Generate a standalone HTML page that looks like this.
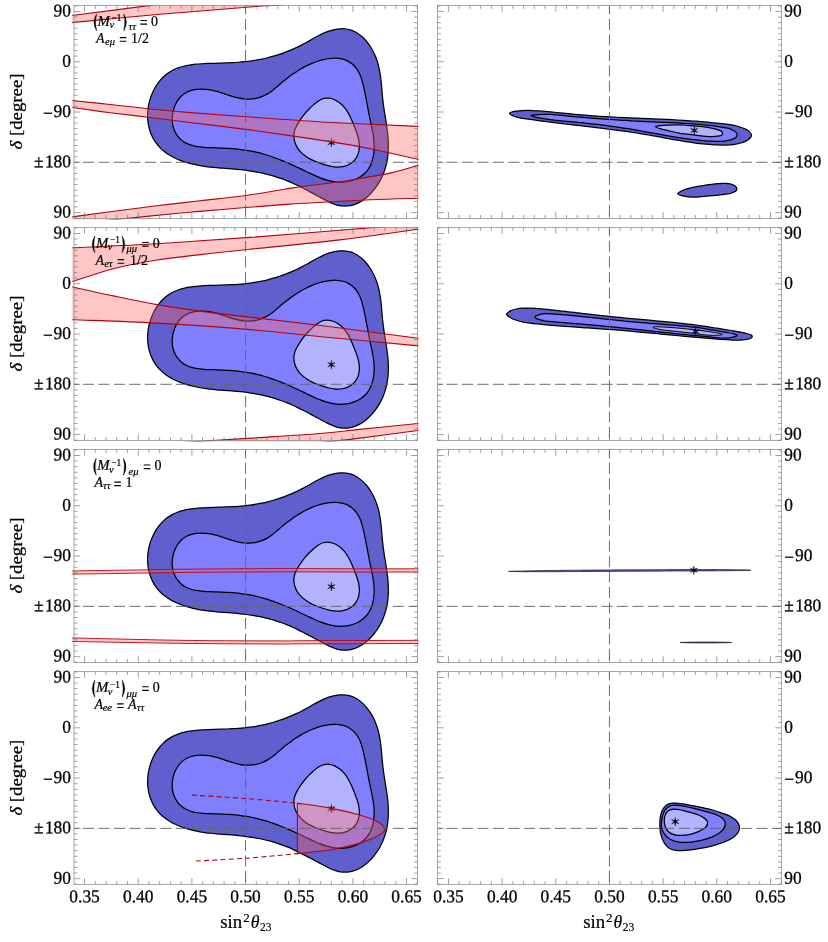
<!DOCTYPE html>
<html><head><meta charset="utf-8"><title>plot</title>
<style>html,body{margin:0;padding:0;background:#fff}svg{display:block}text{font-family:"Liberation Serif",serif;fill:#000}</style></head><body>
<svg width="828" height="942" viewBox="0 0 828 942">
<rect width="828" height="942" fill="#fff"/>
<defs>
<clipPath id="cl0"><rect x="74.00" y="5.45" width="343.50" height="212.95"/></clipPath>
<clipPath id="cb0"><rect x="72.20" y="4.95" width="346.30" height="214.55"/></clipPath>
<clipPath id="cr0"><rect x="437.50" y="5.45" width="344.00" height="212.95"/></clipPath>
<clipPath id="cl1"><rect x="74.00" y="227.48" width="343.50" height="212.95"/></clipPath>
<clipPath id="cb1"><rect x="72.20" y="226.98" width="346.30" height="214.55"/></clipPath>
<clipPath id="cr1"><rect x="437.50" y="227.48" width="344.00" height="212.95"/></clipPath>
<clipPath id="cl2"><rect x="74.00" y="449.51" width="343.50" height="212.95"/></clipPath>
<clipPath id="cb2"><rect x="72.20" y="449.01" width="346.30" height="214.55"/></clipPath>
<clipPath id="cr2"><rect x="437.50" y="449.51" width="344.00" height="212.95"/></clipPath>
<clipPath id="cl3"><rect x="74.00" y="671.54" width="343.50" height="212.95"/></clipPath>
<clipPath id="cb3"><rect x="72.20" y="671.04" width="346.30" height="214.55"/></clipPath>
<clipPath id="cr3"><rect x="437.50" y="671.54" width="344.00" height="212.95"/></clipPath>
<path id="star" d="M0.00 -4.20L-0.50 -0.87L-3.64 -2.10L-1.00 -0.00L-3.64 2.10L-0.50 0.87L-0.00 4.20L0.50 0.87L3.64 2.10L1.00 0.00L3.64 -2.10L0.50 -0.87Z" fill="#000" stroke="#000" stroke-width="0.45" stroke-linejoin="round"/>
<filter id="gs" filterUnits="userSpaceOnUse" x="0" y="0" width="828" height="942" color-interpolation-filters="sRGB"><feColorMatrix type="saturate" values="0"/></filter>
</defs>
<g clip-path="url(#cl0)">
<g transform="translate(0 0.00)">
<path d="M147.59 115.72C147.58 113.68 147.70 111.61 147.93 109.56C148.15 107.52 148.50 105.46 148.95 103.45C149.41 101.43 149.97 99.42 150.64 97.47C151.31 95.52 152.08 93.59 152.95 91.74C153.82 89.89 154.80 88.08 155.86 86.35C156.91 84.63 158.07 82.97 159.31 81.41C160.55 79.86 161.88 78.38 163.29 77.02C164.70 75.66 166.19 74.40 167.76 73.28C169.32 72.15 170.97 71.15 172.67 70.27C174.37 69.38 176.15 68.63 177.98 67.96C179.80 67.29 181.69 66.74 183.61 66.25C185.53 65.76 187.50 65.38 189.49 65.04C191.49 64.71 193.52 64.46 195.57 64.24C197.62 64.03 199.69 63.88 201.77 63.75C203.84 63.62 205.94 63.54 208.02 63.46C210.11 63.38 212.20 63.34 214.26 63.28C216.33 63.22 218.39 63.18 220.43 63.12C222.47 63.06 224.49 62.99 226.50 62.91C228.51 62.83 230.51 62.74 232.49 62.63C234.48 62.53 236.46 62.40 238.43 62.25C240.40 62.10 242.36 61.94 244.32 61.74C246.27 61.54 248.22 61.32 250.17 61.06C252.12 60.80 254.07 60.51 256.02 60.18C257.97 59.85 259.92 59.49 261.86 59.08C263.81 58.67 265.76 58.23 267.71 57.74C269.65 57.26 271.59 56.73 273.53 56.17C275.47 55.61 277.40 55.00 279.32 54.36C281.24 53.72 283.16 53.05 285.06 52.33C286.96 51.61 288.86 50.86 290.74 50.07C292.62 49.28 294.48 48.45 296.33 47.58C298.18 46.72 300.01 45.81 301.83 44.87C303.64 43.94 305.43 42.94 307.22 41.95C309.00 40.96 310.76 39.92 312.53 38.93C314.30 37.93 316.06 36.92 317.84 35.99C319.62 35.05 321.40 34.13 323.21 33.31C325.02 32.50 326.85 31.73 328.72 31.10C330.59 30.46 332.50 29.91 334.44 29.52C336.38 29.14 338.38 28.86 340.34 28.77C342.30 28.69 344.30 28.74 346.22 29.00C348.14 29.27 350.06 29.71 351.87 30.37C353.69 31.03 355.45 31.91 357.13 32.94C358.80 33.97 360.41 35.21 361.93 36.55C363.44 37.88 364.88 39.39 366.23 40.97C367.57 42.55 368.83 44.26 369.99 46.01C371.15 47.75 372.21 49.60 373.17 51.45C374.13 53.30 374.98 55.20 375.73 57.09C376.48 58.98 377.12 60.89 377.69 62.80C378.26 64.72 378.73 66.64 379.15 68.57C379.56 70.51 379.90 72.45 380.21 74.40C380.51 76.35 380.75 78.30 380.98 80.27C381.21 82.23 381.39 84.20 381.57 86.18C381.76 88.15 381.91 90.14 382.09 92.13C382.27 94.11 382.44 96.11 382.65 98.11C382.85 100.10 383.08 102.10 383.34 104.11C383.60 106.11 383.90 108.12 384.20 110.13C384.50 112.14 384.83 114.16 385.15 116.17C385.47 118.18 385.81 120.19 386.12 122.21C386.43 124.22 386.74 126.23 387.01 128.24C387.28 130.25 387.53 132.26 387.73 134.27C387.93 136.27 388.11 138.28 388.21 140.27C388.32 142.27 388.38 144.27 388.37 146.25C388.35 148.24 388.29 150.22 388.14 152.19C388.00 154.16 387.79 156.12 387.51 158.07C387.22 160.01 386.87 161.95 386.42 163.87C385.98 165.78 385.46 167.69 384.85 169.57C384.24 171.45 383.55 173.32 382.76 175.16C381.96 177.00 381.08 178.83 380.10 180.62C379.11 182.41 378.02 184.20 376.85 185.92C375.67 187.64 374.39 189.34 373.04 190.94C371.69 192.54 370.24 194.09 368.73 195.51C367.23 196.93 365.63 198.27 363.99 199.46C362.34 200.65 360.63 201.73 358.86 202.63C357.10 203.53 355.28 204.30 353.42 204.86C351.57 205.42 349.65 205.80 347.73 205.99C345.81 206.17 343.85 206.17 341.92 205.98C339.99 205.79 338.05 205.40 336.15 204.84C334.25 204.29 332.38 203.48 330.53 202.66C328.68 201.83 326.86 200.84 325.04 199.91C323.23 198.97 321.43 198.00 319.63 197.04C317.84 196.08 316.05 195.11 314.27 194.16C312.48 193.20 310.71 192.24 308.93 191.29C307.15 190.35 305.37 189.41 303.59 188.49C301.80 187.57 300.02 186.66 298.22 185.79C296.43 184.91 294.62 184.05 292.80 183.23C290.99 182.41 289.16 181.61 287.31 180.85C285.46 180.10 283.60 179.38 281.72 178.70C279.83 178.02 277.93 177.39 276.01 176.79C274.09 176.19 272.16 175.63 270.21 175.11C268.27 174.59 266.31 174.11 264.34 173.65C262.37 173.20 260.39 172.78 258.41 172.40C256.42 172.01 254.43 171.66 252.44 171.33C250.44 171.01 248.44 170.71 246.44 170.44C244.45 170.17 242.44 169.93 240.45 169.71C238.45 169.50 236.46 169.31 234.46 169.13C232.47 168.95 230.49 168.80 228.50 168.65C226.51 168.50 224.53 168.36 222.55 168.21C220.57 168.05 218.59 167.91 216.61 167.73C214.63 167.56 212.65 167.38 210.67 167.16C208.69 166.95 206.71 166.71 204.73 166.43C202.75 166.15 200.77 165.84 198.79 165.47C196.81 165.10 194.82 164.70 192.84 164.22C190.85 163.74 188.85 163.21 186.88 162.61C184.91 162.01 182.94 161.35 181.01 160.62C179.09 159.88 177.18 159.08 175.33 158.20C173.49 157.32 171.68 156.37 169.95 155.33C168.22 154.29 166.54 153.18 164.96 151.98C163.38 150.78 161.87 149.49 160.48 148.12C159.09 146.74 157.78 145.27 156.60 143.72C155.43 142.16 154.36 140.51 153.41 138.80C152.45 137.08 151.61 135.28 150.89 133.44C150.17 131.60 149.57 129.69 149.08 127.75C148.60 125.81 148.23 123.82 147.98 121.81C147.73 119.81 147.60 117.76 147.59 115.72Z" fill="#5f5fcd" stroke="#000" stroke-width="1.25" stroke-linejoin="round"/><path d="M172.16 119.05C172.17 116.98 172.39 114.83 172.78 112.78C173.16 110.72 173.75 108.64 174.49 106.70C175.24 104.76 176.16 102.86 177.23 101.16C178.31 99.46 179.55 97.85 180.93 96.48C182.30 95.12 183.85 93.95 185.49 92.97C187.12 92.00 188.91 91.25 190.75 90.65C192.58 90.06 194.54 89.66 196.51 89.40C198.48 89.14 200.54 89.06 202.57 89.10C204.61 89.14 206.69 89.33 208.73 89.63C210.77 89.92 212.80 90.36 214.80 90.85C216.80 91.34 218.76 91.96 220.72 92.56C222.68 93.17 224.62 93.86 226.55 94.50C228.49 95.14 230.41 95.81 232.35 96.39C234.28 96.96 236.21 97.53 238.15 97.95C240.10 98.38 242.05 98.75 244.02 98.94C245.99 99.12 248.00 99.19 249.99 99.08C251.98 98.98 254.00 98.71 255.96 98.30C257.92 97.89 259.88 97.33 261.76 96.62C263.63 95.90 265.47 95.03 267.21 94.03C268.95 93.04 270.60 91.85 272.22 90.64C273.84 89.43 275.38 88.08 276.95 86.78C278.51 85.47 280.04 84.11 281.60 82.81C283.17 81.51 284.73 80.22 286.32 78.98C287.92 77.73 289.52 76.52 291.14 75.35C292.77 74.17 294.41 73.03 296.08 71.94C297.75 70.84 299.44 69.79 301.16 68.78C302.88 67.78 304.63 66.82 306.40 65.92C308.18 65.02 309.98 64.16 311.83 63.37C313.68 62.59 315.56 61.86 317.50 61.22C319.44 60.58 321.44 60.01 323.47 59.55C325.50 59.10 327.60 58.71 329.67 58.50C331.73 58.28 333.84 58.16 335.87 58.24C337.90 58.32 339.93 58.53 341.84 58.96C343.76 59.40 345.64 60.01 347.38 60.86C349.11 61.71 350.76 62.80 352.25 64.05C353.74 65.30 355.11 66.78 356.31 68.35C357.51 69.93 358.56 71.68 359.44 73.48C360.33 75.28 360.99 77.21 361.62 79.15C362.25 81.09 362.71 83.10 363.19 85.09C363.68 87.08 364.11 89.09 364.54 91.09C364.97 93.09 365.37 95.09 365.76 97.08C366.16 99.08 366.54 101.07 366.91 103.06C367.29 105.05 367.66 107.03 368.03 109.01C368.40 110.99 368.77 112.96 369.15 114.93C369.53 116.89 369.92 118.85 370.32 120.80C370.72 122.75 371.16 124.69 371.56 126.63C371.96 128.58 372.38 130.51 372.73 132.48C373.08 134.44 373.41 136.40 373.65 138.40C373.88 140.39 374.07 142.41 374.13 144.47C374.19 146.52 374.17 148.64 374.01 150.72C373.84 152.80 373.58 154.92 373.15 156.96C372.73 158.99 372.18 161.02 371.46 162.91C370.74 164.81 369.88 166.66 368.83 168.33C367.78 170.00 366.55 171.56 365.17 172.94C363.79 174.33 362.21 175.56 360.56 176.64C358.91 177.72 357.10 178.64 355.25 179.41C353.41 180.17 351.45 180.79 349.50 181.24C347.55 181.70 345.53 182.00 343.55 182.15C341.58 182.30 339.60 182.28 337.64 182.14C335.68 182.00 333.74 181.70 331.80 181.31C329.87 180.93 327.95 180.41 326.04 179.82C324.13 179.24 322.23 178.55 320.34 177.81C318.44 177.08 316.56 176.26 314.68 175.43C312.79 174.60 310.92 173.71 309.05 172.82C307.17 171.94 305.30 171.02 303.43 170.13C301.56 169.24 299.70 168.36 297.83 167.49C295.96 166.62 294.09 165.76 292.22 164.92C290.35 164.09 288.48 163.26 286.61 162.47C284.74 161.67 282.87 160.90 280.99 160.15C279.11 159.40 277.23 158.68 275.35 157.99C273.47 157.29 271.58 156.63 269.69 156.01C267.80 155.38 265.91 154.79 264.00 154.23C262.10 153.68 260.20 153.17 258.29 152.70C256.37 152.23 254.45 151.80 252.53 151.41C250.60 151.02 248.67 150.67 246.72 150.35C244.78 150.04 242.82 149.76 240.85 149.51C238.89 149.26 236.91 149.05 234.91 148.86C232.92 148.66 230.92 148.50 228.89 148.36C226.87 148.22 224.83 148.11 222.78 148.01C220.72 147.91 218.64 147.84 216.55 147.77C214.46 147.70 212.34 147.68 210.24 147.60C208.13 147.52 206.01 147.46 203.94 147.30C201.86 147.15 199.79 146.97 197.79 146.66C195.80 146.35 193.83 145.98 191.96 145.44C190.09 144.90 188.27 144.27 186.57 143.42C184.87 142.58 183.24 141.59 181.77 140.38C180.29 139.17 178.91 137.73 177.72 136.17C176.53 134.61 175.46 132.85 174.63 131.02C173.80 129.19 173.15 127.21 172.74 125.22C172.33 123.23 172.16 121.13 172.16 119.05Z" fill="#8080fe" stroke="#000" stroke-width="1.25" stroke-linejoin="round"/><path d="M297.60 124.09C298.60 122.30 299.73 120.56 300.91 118.86C302.08 117.16 303.33 115.51 304.65 113.90C305.96 112.30 307.35 110.75 308.82 109.24C310.28 107.74 311.82 106.25 313.43 104.87C315.04 103.48 316.74 102.00 318.49 100.93C320.23 99.87 322.07 98.90 323.91 98.45C325.76 98.00 327.69 97.98 329.56 98.24C331.42 98.50 333.32 99.16 335.10 99.99C336.87 100.83 338.63 101.99 340.20 103.26C341.77 104.53 343.23 106.04 344.54 107.60C345.84 109.17 346.97 110.89 348.03 112.66C349.09 114.43 350.01 116.31 350.90 118.19C351.79 120.08 352.57 122.04 353.36 123.97C354.15 125.90 354.93 127.84 355.64 129.76C356.36 131.69 357.08 133.59 357.64 135.53C358.20 137.47 358.72 139.40 359.00 141.40C359.28 143.39 359.46 145.46 359.34 147.49C359.21 149.53 358.91 151.68 358.26 153.60C357.60 155.53 356.60 157.43 355.40 159.04C354.19 160.65 352.61 162.11 351.02 163.25C349.42 164.39 347.64 165.25 345.83 165.87C344.02 166.49 342.11 166.81 340.17 166.97C338.22 167.12 336.20 167.03 334.17 166.82C332.14 166.61 330.06 166.19 328.00 165.71C325.93 165.23 323.83 164.60 321.78 163.93C319.73 163.25 317.66 162.51 315.69 161.67C313.71 160.83 311.76 159.92 309.93 158.90C308.10 157.88 306.33 156.78 304.73 155.56C303.12 154.34 301.60 153.02 300.29 151.58C298.98 150.14 297.79 148.58 296.84 146.90C295.89 145.21 295.10 143.35 294.60 141.46C294.10 139.56 293.79 137.50 293.85 135.53C293.90 133.56 294.29 131.54 294.92 129.63C295.54 127.73 296.60 125.89 297.60 124.09Z" fill="#b2b2fd" stroke="#000" stroke-width="1.25" stroke-linejoin="round"/>
</g>
<use href="#star" x="331.40" y="142.64"/>
</g>
<g clip-path="url(#cb0)">
<path d="M60.00 17.00C62.33 16.70 58.93 17.13 74.00 15.20C89.07 13.27 129.40 8.10 150.40 5.40C171.40 2.70 191.73 0.07 200.00 -1.00L300.00 3.40C295.33 3.74 280.33 4.86 272.00 5.45C263.67 6.04 268.67 5.47 250.00 6.95C231.33 8.43 189.33 11.73 160.00 14.30C130.67 16.88 90.67 20.77 74.00 22.40C57.33 24.03 62.33 23.82 60.00 24.10Z" fill="rgba(255,100,100,0.37)" stroke="none"/>
<path d="M60.00 17.00C62.33 16.70 58.93 17.13 74.00 15.20C89.07 13.27 129.40 8.10 150.40 5.40C171.40 2.70 191.73 0.07 200.00 -1.00" fill="none" stroke="#b00510" stroke-width="1.10"/>
<path d="M60.00 24.10C62.33 23.82 57.33 24.03 74.00 22.40C90.67 20.77 130.67 16.88 160.00 14.30C189.33 11.73 231.33 8.43 250.00 6.95C268.67 5.47 263.67 6.04 272.00 5.45C280.33 4.86 295.33 3.74 300.00 3.40" fill="none" stroke="#b00510" stroke-width="1.10"/>
<path d="M60.00 99.20C62.33 99.45 65.67 99.82 74.00 100.70C82.33 101.58 97.33 103.12 110.00 104.50C122.67 105.88 136.67 107.65 150.00 109.00C163.33 110.35 173.33 111.27 190.00 112.60C206.67 113.93 227.17 115.40 250.00 117.00C272.83 118.60 298.95 120.63 327.00 122.20C355.05 123.77 401.13 125.62 418.30 126.40C435.47 127.18 428.05 126.82 430.00 126.90L430.00 162.30C428.05 161.82 428.23 161.67 418.30 159.40C408.37 157.13 385.62 151.75 370.40 148.70C355.18 145.65 347.07 144.23 327.00 141.10C306.93 137.97 272.83 133.00 250.00 129.90C227.17 126.80 206.67 124.57 190.00 122.50C173.33 120.43 163.33 119.13 150.00 117.50C136.67 115.87 122.67 114.32 110.00 112.70C97.33 111.08 82.33 108.93 74.00 107.80C65.67 106.67 62.33 106.22 60.00 105.90Z" fill="rgba(255,100,100,0.37)" stroke="none"/>
<path d="M60.00 99.20C62.33 99.45 65.67 99.82 74.00 100.70C82.33 101.58 97.33 103.12 110.00 104.50C122.67 105.88 136.67 107.65 150.00 109.00C163.33 110.35 173.33 111.27 190.00 112.60C206.67 113.93 227.17 115.40 250.00 117.00C272.83 118.60 298.95 120.63 327.00 122.20C355.05 123.77 401.13 125.62 418.30 126.40C435.47 127.18 428.05 126.82 430.00 126.90" fill="none" stroke="#b00510" stroke-width="1.10"/>
<path d="M60.00 105.90C62.33 106.22 65.67 106.67 74.00 107.80C82.33 108.93 97.33 111.08 110.00 112.70C122.67 114.32 136.67 115.87 150.00 117.50C163.33 119.13 173.33 120.43 190.00 122.50C206.67 124.57 227.17 126.80 250.00 129.90C272.83 133.00 306.93 137.97 327.00 141.10C347.07 144.23 355.18 145.65 370.40 148.70C385.62 151.75 408.37 157.13 418.30 159.40C428.23 161.67 428.05 161.82 430.00 162.30" fill="none" stroke="#b00510" stroke-width="1.10"/>
<path d="M60.00 218.50C62.33 218.18 57.90 218.72 74.00 216.60C90.10 214.48 135.60 208.43 156.60 205.80C177.60 203.17 185.18 202.52 200.00 200.80C214.82 199.08 232.17 197.30 245.50 195.50C258.83 193.70 271.87 191.32 280.00 190.00C288.13 188.68 282.85 189.23 294.30 187.60C305.75 185.97 332.38 182.70 348.70 180.20C365.02 177.70 380.60 175.12 392.20 172.60C403.80 170.08 412.00 166.93 418.30 165.10C424.60 163.27 428.05 162.18 430.00 161.60L430.00 198.00C428.05 198.05 428.23 198.00 418.30 198.30C408.37 198.60 389.25 198.98 370.40 199.80C351.55 200.62 320.27 202.35 305.20 203.20C290.13 204.05 289.95 204.18 280.00 204.90C270.05 205.62 258.83 206.42 245.50 207.50C232.17 208.58 210.78 210.48 200.00 211.40C189.22 212.32 193.97 211.73 180.80 213.00C167.63 214.27 141.13 217.00 121.00 219.00C100.87 221.00 70.17 224.00 60.00 225.00Z" fill="rgba(255,100,100,0.37)" stroke="none"/>
<path d="M60.00 218.50C62.33 218.18 57.90 218.72 74.00 216.60C90.10 214.48 135.60 208.43 156.60 205.80C177.60 203.17 185.18 202.52 200.00 200.80C214.82 199.08 232.17 197.30 245.50 195.50C258.83 193.70 271.87 191.32 280.00 190.00C288.13 188.68 282.85 189.23 294.30 187.60C305.75 185.97 332.38 182.70 348.70 180.20C365.02 177.70 380.60 175.12 392.20 172.60C403.80 170.08 412.00 166.93 418.30 165.10C424.60 163.27 428.05 162.18 430.00 161.60" fill="none" stroke="#b00510" stroke-width="1.10"/>
<path d="M60.00 225.00C70.17 224.00 100.87 221.00 121.00 219.00C141.13 217.00 167.63 214.27 180.80 213.00C193.97 211.73 189.22 212.32 200.00 211.40C210.78 210.48 232.17 208.58 245.50 207.50C258.83 206.42 270.05 205.62 280.00 204.90C289.95 204.18 290.13 204.05 305.20 203.20C320.27 202.35 351.55 200.62 370.40 199.80C389.25 198.98 408.37 198.60 418.30 198.30C428.23 198.00 428.05 198.05 430.00 198.00" fill="none" stroke="#b00510" stroke-width="1.10"/>
</g>
<g clip-path="url(#cl0)">
<path d="M245.55 5.45 V218.40" stroke="#666" stroke-width="0.95" stroke-dasharray="11.1 4.4" stroke-dashoffset="2.10" fill="none"/>
<path d="M74.00 162.27 H417.50" stroke="#666" stroke-width="0.95" stroke-dasharray="11.1 4.4" stroke-dashoffset="6.60" fill="none"/>
</g>
<g clip-path="url(#cr0)">
<path d="M509.55 113.53C509.47 112.71 512.06 111.98 514.05 111.48C516.05 110.99 519.23 110.74 521.52 110.55C523.80 110.36 525.79 110.34 527.77 110.34C529.76 110.34 531.54 110.46 533.43 110.56C535.31 110.66 537.18 110.80 539.09 110.94C541.00 111.08 542.94 111.24 544.89 111.40C546.84 111.57 548.82 111.75 550.81 111.93C552.80 112.12 554.81 112.31 556.83 112.50C558.84 112.70 560.87 112.90 562.91 113.10C564.94 113.30 566.98 113.51 569.02 113.71C571.07 113.91 573.11 114.11 575.16 114.30C577.20 114.49 579.24 114.68 581.28 114.86C583.31 115.04 585.34 115.22 587.36 115.38C589.38 115.54 591.39 115.69 593.39 115.84C595.40 115.98 597.39 116.12 599.39 116.25C601.38 116.38 603.37 116.50 605.36 116.62C607.35 116.73 609.34 116.84 611.32 116.95C613.31 117.05 615.30 117.15 617.29 117.25C619.27 117.34 621.26 117.43 623.26 117.52C625.25 117.61 627.25 117.70 629.26 117.78C631.26 117.86 633.27 117.94 635.29 118.03C637.30 118.11 639.33 118.19 641.35 118.27C643.37 118.35 645.39 118.43 647.42 118.51C649.44 118.60 651.47 118.68 653.49 118.77C655.51 118.86 657.53 118.95 659.55 119.04C661.57 119.13 663.58 119.23 665.59 119.33C667.60 119.44 669.61 119.54 671.62 119.65C673.63 119.76 675.64 119.88 677.64 120.00C679.65 120.12 681.65 120.24 683.65 120.37C685.66 120.50 687.66 120.64 689.66 120.78C691.66 120.92 693.67 121.07 695.67 121.23C697.67 121.38 699.67 121.54 701.67 121.71C703.68 121.88 705.68 122.05 707.68 122.23C709.68 122.42 711.69 122.61 713.69 122.80C715.70 123.00 717.71 123.21 719.72 123.42C721.72 123.64 723.74 123.84 725.75 124.09C727.75 124.35 729.77 124.59 731.75 124.94C733.74 125.30 735.72 125.68 737.65 126.23C739.59 126.77 741.51 127.39 743.38 128.21C745.25 129.02 747.50 129.92 748.85 131.14C750.20 132.37 751.71 134.02 751.46 135.55C751.21 137.08 748.98 139.14 747.36 140.34C745.73 141.54 743.64 142.14 741.72 142.77C739.79 143.40 737.78 143.77 735.80 144.11C733.81 144.46 731.81 144.67 729.81 144.82C727.81 144.98 725.79 145.03 723.78 145.06C721.77 145.08 719.75 145.04 717.74 144.97C715.73 144.91 713.73 144.81 711.72 144.68C709.72 144.55 707.71 144.39 705.71 144.21C703.71 144.03 701.71 143.81 699.72 143.58C697.72 143.35 695.73 143.09 693.74 142.82C691.74 142.55 689.75 142.25 687.76 141.95C685.77 141.64 683.78 141.32 681.80 140.98C679.81 140.65 677.82 140.30 675.84 139.95C673.85 139.60 671.87 139.24 669.88 138.87C667.90 138.51 665.91 138.14 663.93 137.77C661.95 137.40 659.96 137.03 657.98 136.66C656.00 136.30 654.01 135.93 652.03 135.57C650.04 135.22 648.06 134.87 646.07 134.53C644.09 134.19 642.10 133.86 640.12 133.54C638.13 133.22 636.15 132.91 634.16 132.61C632.17 132.30 630.18 132.01 628.19 131.72C626.20 131.43 624.22 131.15 622.23 130.88C620.24 130.60 618.24 130.33 616.25 130.07C614.26 129.81 612.27 129.55 610.28 129.30C608.28 129.04 606.29 128.79 604.30 128.55C602.30 128.30 600.31 128.06 598.31 127.82C596.32 127.58 594.32 127.35 592.32 127.11C590.33 126.87 588.33 126.64 586.33 126.41C584.33 126.18 582.33 125.94 580.33 125.71C578.33 125.48 576.33 125.25 574.33 125.02C572.33 124.78 570.32 124.55 568.32 124.31C566.32 124.07 564.31 123.84 562.31 123.59C560.30 123.35 558.29 123.11 556.29 122.86C554.28 122.61 552.27 122.36 550.26 122.10C548.26 121.85 546.24 121.59 544.24 121.32C542.24 121.06 540.23 120.79 538.24 120.53C536.25 120.26 534.26 119.99 532.29 119.72C530.32 119.46 528.36 119.20 526.41 118.93C524.47 118.65 522.58 118.47 520.60 118.05C518.62 117.63 516.37 117.17 514.53 116.41C512.69 115.66 509.63 114.35 509.55 113.53Z" fill="#5f5fcd" stroke="#000" stroke-width="1.25" stroke-linejoin="round"/>
<path d="M531.41 115.72C531.21 115.30 533.30 114.98 535.36 114.76C537.41 114.53 541.11 114.44 543.72 114.39C546.34 114.34 548.81 114.39 551.04 114.46C553.27 114.54 555.20 114.69 557.12 114.85C559.03 115.00 560.74 115.22 562.52 115.42C564.30 115.62 565.98 115.84 567.80 116.05C569.62 116.25 571.49 116.45 573.42 116.64C575.35 116.83 577.35 117.01 579.36 117.19C581.38 117.36 583.44 117.53 585.51 117.69C587.57 117.86 589.67 118.02 591.74 118.17C593.82 118.33 595.89 118.48 597.96 118.63C600.02 118.78 602.08 118.93 604.13 119.07C606.18 119.22 608.23 119.36 610.27 119.50C612.31 119.63 614.34 119.77 616.37 119.90C618.40 120.03 620.43 120.16 622.45 120.29C624.47 120.41 626.49 120.54 628.51 120.66C630.53 120.77 632.54 120.89 634.56 121.00C636.57 121.12 638.58 121.22 640.60 121.33C642.61 121.44 644.62 121.54 646.64 121.64C648.65 121.74 650.67 121.83 652.68 121.92C654.70 122.01 656.72 122.10 658.74 122.19C660.77 122.27 662.79 122.35 664.82 122.44C666.84 122.52 668.87 122.60 670.90 122.69C672.93 122.78 674.96 122.87 676.99 122.97C679.02 123.06 681.05 123.16 683.08 123.28C685.12 123.39 687.15 123.51 689.18 123.64C691.21 123.77 693.24 123.91 695.27 124.07C697.30 124.22 699.33 124.39 701.36 124.58C703.39 124.77 705.42 124.97 707.44 125.19C709.47 125.42 711.49 125.66 713.51 125.92C715.53 126.19 717.55 126.47 719.56 126.78C721.58 127.10 723.60 127.35 725.60 127.81C727.59 128.27 729.67 128.68 731.52 129.55C733.37 130.41 735.92 131.74 736.70 133.01C737.47 134.29 737.19 136.05 736.17 137.20C735.15 138.35 732.62 139.26 730.59 139.90C728.56 140.54 726.13 140.80 724.01 141.04C721.89 141.28 719.88 141.31 717.86 141.34C715.84 141.37 713.89 141.29 711.90 141.21C709.91 141.13 707.92 141.02 705.92 140.88C703.93 140.74 701.93 140.57 699.93 140.39C697.92 140.20 695.92 139.98 693.91 139.74C691.90 139.51 689.89 139.25 687.88 138.98C685.87 138.70 683.85 138.41 681.84 138.11C679.83 137.80 677.81 137.48 675.79 137.15C673.78 136.82 671.76 136.47 669.75 136.12C667.73 135.78 665.72 135.42 663.71 135.06C661.69 134.70 659.68 134.33 657.67 133.96C655.67 133.60 653.66 133.23 651.65 132.87C649.65 132.50 647.65 132.14 645.65 131.78C643.66 131.43 641.66 131.08 639.67 130.73C637.68 130.39 635.69 130.05 633.70 129.72C631.71 129.38 629.72 129.06 627.74 128.74C625.75 128.42 623.76 128.10 621.77 127.80C619.78 127.49 617.78 127.19 615.79 126.90C613.79 126.61 611.79 126.32 609.79 126.05C607.78 125.77 605.78 125.50 603.76 125.24C601.75 124.98 599.73 124.73 597.70 124.49C595.67 124.24 593.64 124.01 591.59 123.78C589.55 123.56 587.50 123.34 585.44 123.13C583.38 122.93 581.30 122.73 579.23 122.54C577.17 122.35 575.09 122.17 573.05 121.99C571.01 121.81 568.97 121.63 566.99 121.45C565.01 121.27 563.05 121.10 561.16 120.91C559.26 120.73 557.46 120.55 555.61 120.34C553.76 120.13 551.99 119.92 550.03 119.64C548.07 119.36 546.10 119.06 543.85 118.67C541.60 118.27 538.61 117.77 536.54 117.28C534.46 116.78 531.61 116.14 531.41 115.72Z" fill="#8080fe" stroke="#000" stroke-width="1.25" stroke-linejoin="round"/>
<path d="M655.42 126.70C655.49 126.20 658.40 125.90 660.55 125.64C662.69 125.38 665.97 125.26 668.27 125.14C670.58 125.02 672.46 124.94 674.39 124.91C676.32 124.88 677.97 124.89 679.83 124.95C681.69 125.00 683.57 125.12 685.53 125.25C687.50 125.38 689.56 125.56 691.62 125.73C693.68 125.90 695.80 126.10 697.89 126.29C699.98 126.49 702.09 126.66 704.16 126.91C706.22 127.16 708.29 127.40 710.29 127.79C712.30 128.18 714.29 128.61 716.19 129.22C718.10 129.83 720.80 130.52 721.74 131.47C722.68 132.43 722.90 134.12 721.85 134.95C720.79 135.79 717.56 136.22 715.40 136.48C713.23 136.75 710.91 136.62 708.84 136.56C706.76 136.50 704.89 136.31 702.93 136.12C700.98 135.93 699.09 135.67 697.10 135.43C695.10 135.20 692.99 134.95 690.95 134.70C688.90 134.44 686.77 134.18 684.80 133.91C682.83 133.63 680.94 133.36 679.11 133.03C677.27 132.71 675.66 132.40 673.77 131.99C671.87 131.58 670.02 131.14 667.75 130.58C665.47 130.03 662.18 129.30 660.12 128.65C658.06 128.00 655.34 127.20 655.42 126.70Z" fill="#b2b2fd" stroke="#000" stroke-width="1.25" stroke-linejoin="round"/>
<path d="M677.73 193.79C677.62 192.91 680.19 191.60 682.04 190.69C683.89 189.78 686.76 188.95 688.85 188.34C690.93 187.72 692.68 187.39 694.55 187.00C696.41 186.61 698.19 186.32 700.06 186.00C701.94 185.68 703.85 185.37 705.79 185.09C707.73 184.80 709.71 184.53 711.72 184.30C713.73 184.06 715.78 183.84 717.85 183.68C719.92 183.51 722.09 183.29 724.15 183.31C726.21 183.33 728.35 183.32 730.24 183.79C732.13 184.26 734.45 185.00 735.47 186.12C736.49 187.23 737.14 189.28 736.37 190.46C735.60 191.65 732.80 192.60 730.86 193.24C728.92 193.87 726.76 193.98 724.73 194.27C722.70 194.57 720.67 194.79 718.66 195.02C716.66 195.25 714.67 195.45 712.70 195.64C710.72 195.84 708.75 196.01 706.79 196.19C704.82 196.36 702.87 196.54 700.90 196.69C698.93 196.84 696.97 197.02 694.98 197.06C692.98 197.10 690.99 197.13 688.94 196.95C686.89 196.76 684.55 196.50 682.68 195.97C680.81 195.45 677.84 194.67 677.73 193.79Z" fill="#5f5fcd" stroke="#000" stroke-width="1.25" stroke-linejoin="round"/>
<path d="M609.44 5.45 V218.40" stroke="#666" stroke-width="0.95" stroke-dasharray="11.1 4.4" stroke-dashoffset="2.10" fill="none"/>
<path d="M437.50 162.27 H781.50" stroke="#666" stroke-width="0.95" stroke-dasharray="11.1 4.4" stroke-dashoffset="6.60" fill="none"/>
<use href="#star" x="694.30" y="130.40"/>
</g>
<path d="M84.55 5.45 v6.30 M84.55 218.40 v-6.30M95.28 5.45 v3.40 M95.28 218.40 v-3.40M106.02 5.45 v3.40 M106.02 218.40 v-3.40M116.75 5.45 v3.40 M116.75 218.40 v-3.40M127.48 5.45 v3.40 M127.48 218.40 v-3.40M138.22 5.45 v6.30 M138.22 218.40 v-6.30M148.95 5.45 v3.40 M148.95 218.40 v-3.40M159.68 5.45 v3.40 M159.68 218.40 v-3.40M170.41 5.45 v3.40 M170.41 218.40 v-3.40M181.15 5.45 v3.40 M181.15 218.40 v-3.40M191.88 5.45 v6.30 M191.88 218.40 v-6.30M202.61 5.45 v3.40 M202.61 218.40 v-3.40M213.35 5.45 v3.40 M213.35 218.40 v-3.40M224.08 5.45 v3.40 M224.08 218.40 v-3.40M234.81 5.45 v3.40 M234.81 218.40 v-3.40M245.55 5.45 v6.30 M245.55 218.40 v-6.30M256.28 5.45 v3.40 M256.28 218.40 v-3.40M267.01 5.45 v3.40 M267.01 218.40 v-3.40M277.74 5.45 v3.40 M277.74 218.40 v-3.40M288.48 5.45 v3.40 M288.48 218.40 v-3.40M299.21 5.45 v6.30 M299.21 218.40 v-6.30M309.94 5.45 v3.40 M309.94 218.40 v-3.40M320.68 5.45 v3.40 M320.68 218.40 v-3.40M331.41 5.45 v3.40 M331.41 218.40 v-3.40M342.14 5.45 v3.40 M342.14 218.40 v-3.40M352.88 5.45 v6.30 M352.88 218.40 v-6.30M363.61 5.45 v3.40 M363.61 218.40 v-3.40M374.34 5.45 v3.40 M374.34 218.40 v-3.40M385.07 5.45 v3.40 M385.07 218.40 v-3.40M395.81 5.45 v3.40 M395.81 218.40 v-3.40M406.54 5.45 v6.30 M406.54 218.40 v-6.30M417.27 5.45 v3.40 M417.27 218.40 v-3.40M74.00 218.13 h3.40 M417.50 218.13 h-3.40M74.00 212.55 h6.30 M417.50 212.55 h-6.30M74.00 206.96 h3.40 M417.50 206.96 h-3.40M74.00 201.37 h3.40 M417.50 201.37 h-3.40M74.00 195.79 h3.40 M417.50 195.79 h-3.40M74.00 190.20 h3.40 M417.50 190.20 h-3.40M74.00 184.62 h3.40 M417.50 184.62 h-3.40M74.00 179.03 h3.40 M417.50 179.03 h-3.40M74.00 173.44 h3.40 M417.50 173.44 h-3.40M74.00 167.86 h3.40 M417.50 167.86 h-3.40M74.00 162.27 h6.30 M417.50 162.27 h-6.30M74.00 156.69 h3.40 M417.50 156.69 h-3.40M74.00 151.10 h3.40 M417.50 151.10 h-3.40M74.00 145.51 h3.40 M417.50 145.51 h-3.40M74.00 139.93 h3.40 M417.50 139.93 h-3.40M74.00 134.34 h3.40 M417.50 134.34 h-3.40M74.00 128.76 h3.40 M417.50 128.76 h-3.40M74.00 123.17 h3.40 M417.50 123.17 h-3.40M74.00 117.58 h3.40 M417.50 117.58 h-3.40M74.00 112.00 h6.30 M417.50 112.00 h-6.30M74.00 106.41 h3.40 M417.50 106.41 h-3.40M74.00 100.83 h3.40 M417.50 100.83 h-3.40M74.00 95.24 h3.40 M417.50 95.24 h-3.40M74.00 89.65 h3.40 M417.50 89.65 h-3.40M74.00 84.07 h3.40 M417.50 84.07 h-3.40M74.00 78.48 h3.40 M417.50 78.48 h-3.40M74.00 72.90 h3.40 M417.50 72.90 h-3.40M74.00 67.31 h3.40 M417.50 67.31 h-3.40M74.00 61.72 h6.30 M417.50 61.72 h-6.30M74.00 56.14 h3.40 M417.50 56.14 h-3.40M74.00 50.55 h3.40 M417.50 50.55 h-3.40M74.00 44.97 h3.40 M417.50 44.97 h-3.40M74.00 39.38 h3.40 M417.50 39.38 h-3.40M74.00 33.79 h3.40 M417.50 33.79 h-3.40M74.00 28.21 h3.40 M417.50 28.21 h-3.40M74.00 22.62 h3.40 M417.50 22.62 h-3.40M74.00 17.04 h3.40 M417.50 17.04 h-3.40M74.00 11.45 h6.30 M417.50 11.45 h-6.30M74.00 5.86 h3.40 M417.50 5.86 h-3.40" stroke="#606060" stroke-width="0.60" fill="none"/>
<rect x="74.00" y="5.45" width="343.50" height="212.95" fill="none" stroke="#8a8a8a" stroke-width="0.75"/>
<path d="M437.72 5.45 v3.40 M437.72 218.40 v-3.40M448.45 5.45 v6.30 M448.45 218.40 v-6.30M459.18 5.45 v3.40 M459.18 218.40 v-3.40M469.92 5.45 v3.40 M469.92 218.40 v-3.40M480.65 5.45 v3.40 M480.65 218.40 v-3.40M491.38 5.45 v3.40 M491.38 218.40 v-3.40M502.12 5.45 v6.30 M502.12 218.40 v-6.30M512.85 5.45 v3.40 M512.85 218.40 v-3.40M523.58 5.45 v3.40 M523.58 218.40 v-3.40M534.31 5.45 v3.40 M534.31 218.40 v-3.40M545.05 5.45 v3.40 M545.05 218.40 v-3.40M555.78 5.45 v6.30 M555.78 218.40 v-6.30M566.51 5.45 v3.40 M566.51 218.40 v-3.40M577.25 5.45 v3.40 M577.25 218.40 v-3.40M587.98 5.45 v3.40 M587.98 218.40 v-3.40M598.71 5.45 v3.40 M598.71 218.40 v-3.40M609.44 5.45 v6.30 M609.44 218.40 v-6.30M620.18 5.45 v3.40 M620.18 218.40 v-3.40M630.91 5.45 v3.40 M630.91 218.40 v-3.40M641.64 5.45 v3.40 M641.64 218.40 v-3.40M652.38 5.45 v3.40 M652.38 218.40 v-3.40M663.11 5.45 v6.30 M663.11 218.40 v-6.30M673.84 5.45 v3.40 M673.84 218.40 v-3.40M684.58 5.45 v3.40 M684.58 218.40 v-3.40M695.31 5.45 v3.40 M695.31 218.40 v-3.40M706.04 5.45 v3.40 M706.04 218.40 v-3.40M716.77 5.45 v6.30 M716.77 218.40 v-6.30M727.51 5.45 v3.40 M727.51 218.40 v-3.40M738.24 5.45 v3.40 M738.24 218.40 v-3.40M748.97 5.45 v3.40 M748.97 218.40 v-3.40M759.71 5.45 v3.40 M759.71 218.40 v-3.40M770.44 5.45 v6.30 M770.44 218.40 v-6.30M781.17 5.45 v3.40 M781.17 218.40 v-3.40M437.50 218.13 h3.40 M781.50 218.13 h-3.40M437.50 212.55 h6.30 M781.50 212.55 h-6.30M437.50 206.96 h3.40 M781.50 206.96 h-3.40M437.50 201.37 h3.40 M781.50 201.37 h-3.40M437.50 195.79 h3.40 M781.50 195.79 h-3.40M437.50 190.20 h3.40 M781.50 190.20 h-3.40M437.50 184.62 h3.40 M781.50 184.62 h-3.40M437.50 179.03 h3.40 M781.50 179.03 h-3.40M437.50 173.44 h3.40 M781.50 173.44 h-3.40M437.50 167.86 h3.40 M781.50 167.86 h-3.40M437.50 162.27 h6.30 M781.50 162.27 h-6.30M437.50 156.69 h3.40 M781.50 156.69 h-3.40M437.50 151.10 h3.40 M781.50 151.10 h-3.40M437.50 145.51 h3.40 M781.50 145.51 h-3.40M437.50 139.93 h3.40 M781.50 139.93 h-3.40M437.50 134.34 h3.40 M781.50 134.34 h-3.40M437.50 128.76 h3.40 M781.50 128.76 h-3.40M437.50 123.17 h3.40 M781.50 123.17 h-3.40M437.50 117.58 h3.40 M781.50 117.58 h-3.40M437.50 112.00 h6.30 M781.50 112.00 h-6.30M437.50 106.41 h3.40 M781.50 106.41 h-3.40M437.50 100.83 h3.40 M781.50 100.83 h-3.40M437.50 95.24 h3.40 M781.50 95.24 h-3.40M437.50 89.65 h3.40 M781.50 89.65 h-3.40M437.50 84.07 h3.40 M781.50 84.07 h-3.40M437.50 78.48 h3.40 M781.50 78.48 h-3.40M437.50 72.90 h3.40 M781.50 72.90 h-3.40M437.50 67.31 h3.40 M781.50 67.31 h-3.40M437.50 61.72 h6.30 M781.50 61.72 h-6.30M437.50 56.14 h3.40 M781.50 56.14 h-3.40M437.50 50.55 h3.40 M781.50 50.55 h-3.40M437.50 44.97 h3.40 M781.50 44.97 h-3.40M437.50 39.38 h3.40 M781.50 39.38 h-3.40M437.50 33.79 h3.40 M781.50 33.79 h-3.40M437.50 28.21 h3.40 M781.50 28.21 h-3.40M437.50 22.62 h3.40 M781.50 22.62 h-3.40M437.50 17.04 h3.40 M781.50 17.04 h-3.40M437.50 11.45 h6.30 M781.50 11.45 h-6.30M437.50 5.86 h3.40 M781.50 5.86 h-3.40" stroke="#606060" stroke-width="0.60" fill="none"/>
<rect x="437.50" y="5.45" width="344.00" height="212.95" fill="none" stroke="#8a8a8a" stroke-width="0.75"/>
<g clip-path="url(#cl1)">
<g transform="translate(0 222.03)">
<path d="M147.59 115.72C147.58 113.68 147.70 111.61 147.93 109.56C148.15 107.52 148.50 105.46 148.95 103.45C149.41 101.43 149.97 99.42 150.64 97.47C151.31 95.52 152.08 93.59 152.95 91.74C153.82 89.89 154.80 88.08 155.86 86.35C156.91 84.63 158.07 82.97 159.31 81.41C160.55 79.86 161.88 78.38 163.29 77.02C164.70 75.66 166.19 74.40 167.76 73.28C169.32 72.15 170.97 71.15 172.67 70.27C174.37 69.38 176.15 68.63 177.98 67.96C179.80 67.29 181.69 66.74 183.61 66.25C185.53 65.76 187.50 65.38 189.49 65.04C191.49 64.71 193.52 64.46 195.57 64.24C197.62 64.03 199.69 63.88 201.77 63.75C203.84 63.62 205.94 63.54 208.02 63.46C210.11 63.38 212.20 63.34 214.26 63.28C216.33 63.22 218.39 63.18 220.43 63.12C222.47 63.06 224.49 62.99 226.50 62.91C228.51 62.83 230.51 62.74 232.49 62.63C234.48 62.53 236.46 62.40 238.43 62.25C240.40 62.10 242.36 61.94 244.32 61.74C246.27 61.54 248.22 61.32 250.17 61.06C252.12 60.80 254.07 60.51 256.02 60.18C257.97 59.85 259.92 59.49 261.86 59.08C263.81 58.67 265.76 58.23 267.71 57.74C269.65 57.26 271.59 56.73 273.53 56.17C275.47 55.61 277.40 55.00 279.32 54.36C281.24 53.72 283.16 53.05 285.06 52.33C286.96 51.61 288.86 50.86 290.74 50.07C292.62 49.28 294.48 48.45 296.33 47.58C298.18 46.72 300.01 45.81 301.83 44.87C303.64 43.94 305.43 42.94 307.22 41.95C309.00 40.96 310.76 39.92 312.53 38.93C314.30 37.93 316.06 36.92 317.84 35.99C319.62 35.05 321.40 34.13 323.21 33.31C325.02 32.50 326.85 31.73 328.72 31.10C330.59 30.46 332.50 29.91 334.44 29.52C336.38 29.14 338.38 28.86 340.34 28.77C342.30 28.69 344.30 28.74 346.22 29.00C348.14 29.27 350.06 29.71 351.87 30.37C353.69 31.03 355.45 31.91 357.13 32.94C358.80 33.97 360.41 35.21 361.93 36.55C363.44 37.88 364.88 39.39 366.23 40.97C367.57 42.55 368.83 44.26 369.99 46.01C371.15 47.75 372.21 49.60 373.17 51.45C374.13 53.30 374.98 55.20 375.73 57.09C376.48 58.98 377.12 60.89 377.69 62.80C378.26 64.72 378.73 66.64 379.15 68.57C379.56 70.51 379.90 72.45 380.21 74.40C380.51 76.35 380.75 78.30 380.98 80.27C381.21 82.23 381.39 84.20 381.57 86.18C381.76 88.15 381.91 90.14 382.09 92.13C382.27 94.11 382.44 96.11 382.65 98.11C382.85 100.10 383.08 102.10 383.34 104.11C383.60 106.11 383.90 108.12 384.20 110.13C384.50 112.14 384.83 114.16 385.15 116.17C385.47 118.18 385.81 120.19 386.12 122.21C386.43 124.22 386.74 126.23 387.01 128.24C387.28 130.25 387.53 132.26 387.73 134.27C387.93 136.27 388.11 138.28 388.21 140.27C388.32 142.27 388.38 144.27 388.37 146.25C388.35 148.24 388.29 150.22 388.14 152.19C388.00 154.16 387.79 156.12 387.51 158.07C387.22 160.01 386.87 161.95 386.42 163.87C385.98 165.78 385.46 167.69 384.85 169.57C384.24 171.45 383.55 173.32 382.76 175.16C381.96 177.00 381.08 178.83 380.10 180.62C379.11 182.41 378.02 184.20 376.85 185.92C375.67 187.64 374.39 189.34 373.04 190.94C371.69 192.54 370.24 194.09 368.73 195.51C367.23 196.93 365.63 198.27 363.99 199.46C362.34 200.65 360.63 201.73 358.86 202.63C357.10 203.53 355.28 204.30 353.42 204.86C351.57 205.42 349.65 205.80 347.73 205.99C345.81 206.17 343.85 206.17 341.92 205.98C339.99 205.79 338.05 205.40 336.15 204.84C334.25 204.29 332.38 203.48 330.53 202.66C328.68 201.83 326.86 200.84 325.04 199.91C323.23 198.97 321.43 198.00 319.63 197.04C317.84 196.08 316.05 195.11 314.27 194.16C312.48 193.20 310.71 192.24 308.93 191.29C307.15 190.35 305.37 189.41 303.59 188.49C301.80 187.57 300.02 186.66 298.22 185.79C296.43 184.91 294.62 184.05 292.80 183.23C290.99 182.41 289.16 181.61 287.31 180.85C285.46 180.10 283.60 179.38 281.72 178.70C279.83 178.02 277.93 177.39 276.01 176.79C274.09 176.19 272.16 175.63 270.21 175.11C268.27 174.59 266.31 174.11 264.34 173.65C262.37 173.20 260.39 172.78 258.41 172.40C256.42 172.01 254.43 171.66 252.44 171.33C250.44 171.01 248.44 170.71 246.44 170.44C244.45 170.17 242.44 169.93 240.45 169.71C238.45 169.50 236.46 169.31 234.46 169.13C232.47 168.95 230.49 168.80 228.50 168.65C226.51 168.50 224.53 168.36 222.55 168.21C220.57 168.05 218.59 167.91 216.61 167.73C214.63 167.56 212.65 167.38 210.67 167.16C208.69 166.95 206.71 166.71 204.73 166.43C202.75 166.15 200.77 165.84 198.79 165.47C196.81 165.10 194.82 164.70 192.84 164.22C190.85 163.74 188.85 163.21 186.88 162.61C184.91 162.01 182.94 161.35 181.01 160.62C179.09 159.88 177.18 159.08 175.33 158.20C173.49 157.32 171.68 156.37 169.95 155.33C168.22 154.29 166.54 153.18 164.96 151.98C163.38 150.78 161.87 149.49 160.48 148.12C159.09 146.74 157.78 145.27 156.60 143.72C155.43 142.16 154.36 140.51 153.41 138.80C152.45 137.08 151.61 135.28 150.89 133.44C150.17 131.60 149.57 129.69 149.08 127.75C148.60 125.81 148.23 123.82 147.98 121.81C147.73 119.81 147.60 117.76 147.59 115.72Z" fill="#5f5fcd" stroke="#000" stroke-width="1.25" stroke-linejoin="round"/><path d="M172.16 119.05C172.17 116.98 172.39 114.83 172.78 112.78C173.16 110.72 173.75 108.64 174.49 106.70C175.24 104.76 176.16 102.86 177.23 101.16C178.31 99.46 179.55 97.85 180.93 96.48C182.30 95.12 183.85 93.95 185.49 92.97C187.12 92.00 188.91 91.25 190.75 90.65C192.58 90.06 194.54 89.66 196.51 89.40C198.48 89.14 200.54 89.06 202.57 89.10C204.61 89.14 206.69 89.33 208.73 89.63C210.77 89.92 212.80 90.36 214.80 90.85C216.80 91.34 218.76 91.96 220.72 92.56C222.68 93.17 224.62 93.86 226.55 94.50C228.49 95.14 230.41 95.81 232.35 96.39C234.28 96.96 236.21 97.53 238.15 97.95C240.10 98.38 242.05 98.75 244.02 98.94C245.99 99.12 248.00 99.19 249.99 99.08C251.98 98.98 254.00 98.71 255.96 98.30C257.92 97.89 259.88 97.33 261.76 96.62C263.63 95.90 265.47 95.03 267.21 94.03C268.95 93.04 270.60 91.85 272.22 90.64C273.84 89.43 275.38 88.08 276.95 86.78C278.51 85.47 280.04 84.11 281.60 82.81C283.17 81.51 284.73 80.22 286.32 78.98C287.92 77.73 289.52 76.52 291.14 75.35C292.77 74.17 294.41 73.03 296.08 71.94C297.75 70.84 299.44 69.79 301.16 68.78C302.88 67.78 304.63 66.82 306.40 65.92C308.18 65.02 309.98 64.16 311.83 63.37C313.68 62.59 315.56 61.86 317.50 61.22C319.44 60.58 321.44 60.01 323.47 59.55C325.50 59.10 327.60 58.71 329.67 58.50C331.73 58.28 333.84 58.16 335.87 58.24C337.90 58.32 339.93 58.53 341.84 58.96C343.76 59.40 345.64 60.01 347.38 60.86C349.11 61.71 350.76 62.80 352.25 64.05C353.74 65.30 355.11 66.78 356.31 68.35C357.51 69.93 358.56 71.68 359.44 73.48C360.33 75.28 360.99 77.21 361.62 79.15C362.25 81.09 362.71 83.10 363.19 85.09C363.68 87.08 364.11 89.09 364.54 91.09C364.97 93.09 365.37 95.09 365.76 97.08C366.16 99.08 366.54 101.07 366.91 103.06C367.29 105.05 367.66 107.03 368.03 109.01C368.40 110.99 368.77 112.96 369.15 114.93C369.53 116.89 369.92 118.85 370.32 120.80C370.72 122.75 371.16 124.69 371.56 126.63C371.96 128.58 372.38 130.51 372.73 132.48C373.08 134.44 373.41 136.40 373.65 138.40C373.88 140.39 374.07 142.41 374.13 144.47C374.19 146.52 374.17 148.64 374.01 150.72C373.84 152.80 373.58 154.92 373.15 156.96C372.73 158.99 372.18 161.02 371.46 162.91C370.74 164.81 369.88 166.66 368.83 168.33C367.78 170.00 366.55 171.56 365.17 172.94C363.79 174.33 362.21 175.56 360.56 176.64C358.91 177.72 357.10 178.64 355.25 179.41C353.41 180.17 351.45 180.79 349.50 181.24C347.55 181.70 345.53 182.00 343.55 182.15C341.58 182.30 339.60 182.28 337.64 182.14C335.68 182.00 333.74 181.70 331.80 181.31C329.87 180.93 327.95 180.41 326.04 179.82C324.13 179.24 322.23 178.55 320.34 177.81C318.44 177.08 316.56 176.26 314.68 175.43C312.79 174.60 310.92 173.71 309.05 172.82C307.17 171.94 305.30 171.02 303.43 170.13C301.56 169.24 299.70 168.36 297.83 167.49C295.96 166.62 294.09 165.76 292.22 164.92C290.35 164.09 288.48 163.26 286.61 162.47C284.74 161.67 282.87 160.90 280.99 160.15C279.11 159.40 277.23 158.68 275.35 157.99C273.47 157.29 271.58 156.63 269.69 156.01C267.80 155.38 265.91 154.79 264.00 154.23C262.10 153.68 260.20 153.17 258.29 152.70C256.37 152.23 254.45 151.80 252.53 151.41C250.60 151.02 248.67 150.67 246.72 150.35C244.78 150.04 242.82 149.76 240.85 149.51C238.89 149.26 236.91 149.05 234.91 148.86C232.92 148.66 230.92 148.50 228.89 148.36C226.87 148.22 224.83 148.11 222.78 148.01C220.72 147.91 218.64 147.84 216.55 147.77C214.46 147.70 212.34 147.68 210.24 147.60C208.13 147.52 206.01 147.46 203.94 147.30C201.86 147.15 199.79 146.97 197.79 146.66C195.80 146.35 193.83 145.98 191.96 145.44C190.09 144.90 188.27 144.27 186.57 143.42C184.87 142.58 183.24 141.59 181.77 140.38C180.29 139.17 178.91 137.73 177.72 136.17C176.53 134.61 175.46 132.85 174.63 131.02C173.80 129.19 173.15 127.21 172.74 125.22C172.33 123.23 172.16 121.13 172.16 119.05Z" fill="#8080fe" stroke="#000" stroke-width="1.25" stroke-linejoin="round"/><path d="M297.60 124.09C298.60 122.30 299.73 120.56 300.91 118.86C302.08 117.16 303.33 115.51 304.65 113.90C305.96 112.30 307.35 110.75 308.82 109.24C310.28 107.74 311.82 106.25 313.43 104.87C315.04 103.48 316.74 102.00 318.49 100.93C320.23 99.87 322.07 98.90 323.91 98.45C325.76 98.00 327.69 97.98 329.56 98.24C331.42 98.50 333.32 99.16 335.10 99.99C336.87 100.83 338.63 101.99 340.20 103.26C341.77 104.53 343.23 106.04 344.54 107.60C345.84 109.17 346.97 110.89 348.03 112.66C349.09 114.43 350.01 116.31 350.90 118.19C351.79 120.08 352.57 122.04 353.36 123.97C354.15 125.90 354.93 127.84 355.64 129.76C356.36 131.69 357.08 133.59 357.64 135.53C358.20 137.47 358.72 139.40 359.00 141.40C359.28 143.39 359.46 145.46 359.34 147.49C359.21 149.53 358.91 151.68 358.26 153.60C357.60 155.53 356.60 157.43 355.40 159.04C354.19 160.65 352.61 162.11 351.02 163.25C349.42 164.39 347.64 165.25 345.83 165.87C344.02 166.49 342.11 166.81 340.17 166.97C338.22 167.12 336.20 167.03 334.17 166.82C332.14 166.61 330.06 166.19 328.00 165.71C325.93 165.23 323.83 164.60 321.78 163.93C319.73 163.25 317.66 162.51 315.69 161.67C313.71 160.83 311.76 159.92 309.93 158.90C308.10 157.88 306.33 156.78 304.73 155.56C303.12 154.34 301.60 153.02 300.29 151.58C298.98 150.14 297.79 148.58 296.84 146.90C295.89 145.21 295.10 143.35 294.60 141.46C294.10 139.56 293.79 137.50 293.85 135.53C293.90 133.56 294.29 131.54 294.92 129.63C295.54 127.73 296.60 125.89 297.60 124.09Z" fill="#b2b2fd" stroke="#000" stroke-width="1.25" stroke-linejoin="round"/>
</g>
<use href="#star" x="331.40" y="364.67"/>
</g>
<g clip-path="url(#cb1)">
<path d="M60.00 248.30C62.33 248.20 57.83 248.47 74.00 247.70C90.17 246.93 127.67 245.42 157.00 243.70C186.33 241.98 213.83 240.11 250.00 237.40C286.17 234.69 344.00 229.85 374.00 227.45C404.00 225.05 420.67 223.74 430.00 223.00L430.00 227.60C428.05 227.87 433.30 227.15 418.30 229.20C403.30 231.25 368.05 236.57 340.00 239.90C311.95 243.23 273.27 246.75 250.00 249.20C226.73 251.65 215.90 252.80 200.40 254.60C184.90 256.40 171.48 257.65 157.00 260.00C142.52 262.35 127.33 265.18 113.50 268.70C99.67 272.22 82.92 278.22 74.00 281.10C65.08 283.98 62.33 285.18 60.00 286.00Z" fill="rgba(255,100,100,0.37)" stroke="none"/>
<path d="M60.00 248.30C62.33 248.20 57.83 248.47 74.00 247.70C90.17 246.93 127.67 245.42 157.00 243.70C186.33 241.98 213.83 240.11 250.00 237.40C286.17 234.69 344.00 229.85 374.00 227.45C404.00 225.05 420.67 223.74 430.00 223.00" fill="none" stroke="#b00510" stroke-width="1.10"/>
<path d="M60.00 286.00C62.33 285.18 65.08 283.98 74.00 281.10C82.92 278.22 99.67 272.22 113.50 268.70C127.33 265.18 142.52 262.35 157.00 260.00C171.48 257.65 184.90 256.40 200.40 254.60C215.90 252.80 226.73 251.65 250.00 249.20C273.27 246.75 311.95 243.23 340.00 239.90C368.05 236.57 403.30 231.25 418.30 229.20C433.30 227.15 428.05 227.87 430.00 227.60" fill="none" stroke="#b00510" stroke-width="1.10"/>
<path d="M60.00 284.00C62.33 284.53 65.08 285.22 74.00 287.20C82.92 289.18 99.67 293.00 113.50 295.90C127.33 298.80 142.52 302.07 157.00 304.60C171.48 307.13 184.90 309.00 200.40 311.10C215.90 313.20 228.90 314.67 250.00 317.20C271.10 319.73 298.95 322.78 327.00 326.30C355.05 329.82 401.13 336.03 418.30 338.30C435.47 340.57 428.05 339.63 430.00 339.90L430.00 347.00C428.05 346.82 435.47 347.53 418.30 345.90C401.13 344.27 355.05 339.92 327.00 337.20C298.95 334.48 278.33 331.95 250.00 329.60C221.67 327.25 186.33 324.73 157.00 323.10C127.67 321.47 90.17 320.43 74.00 319.80C57.83 319.17 62.33 319.38 60.00 319.30Z" fill="rgba(255,100,100,0.37)" stroke="none"/>
<path d="M60.00 284.00C62.33 284.53 65.08 285.22 74.00 287.20C82.92 289.18 99.67 293.00 113.50 295.90C127.33 298.80 142.52 302.07 157.00 304.60C171.48 307.13 184.90 309.00 200.40 311.10C215.90 313.20 228.90 314.67 250.00 317.20C271.10 319.73 298.95 322.78 327.00 326.30C355.05 329.82 401.13 336.03 418.30 338.30C435.47 340.57 428.05 339.63 430.00 339.90" fill="none" stroke="#b00510" stroke-width="1.10"/>
<path d="M60.00 319.30C62.33 319.38 57.83 319.17 74.00 319.80C90.17 320.43 127.67 321.47 157.00 323.10C186.33 324.73 221.67 327.25 250.00 329.60C278.33 331.95 298.95 334.48 327.00 337.20C355.05 339.92 401.13 344.27 418.30 345.90C435.47 347.53 428.05 346.82 430.00 347.00" fill="none" stroke="#b00510" stroke-width="1.10"/>
<path d="M180.00 442.60C184.08 442.33 191.17 441.83 204.50 441.00C217.83 440.17 240.75 438.85 260.00 437.60C279.25 436.35 303.33 434.87 320.00 433.50C336.67 432.13 343.68 431.07 360.00 429.40C376.32 427.73 406.23 424.70 417.90 423.50C429.57 422.30 427.98 422.42 430.00 422.20L430.00 428.90C427.98 429.17 429.57 428.97 417.90 430.50C406.23 432.03 374.15 436.32 360.00 438.10C345.85 439.88 343.00 440.17 333.00 441.20C323.00 442.23 305.50 443.78 300.00 444.30Z" fill="rgba(255,100,100,0.37)" stroke="none"/>
<path d="M180.00 442.60C184.08 442.33 191.17 441.83 204.50 441.00C217.83 440.17 240.75 438.85 260.00 437.60C279.25 436.35 303.33 434.87 320.00 433.50C336.67 432.13 343.68 431.07 360.00 429.40C376.32 427.73 406.23 424.70 417.90 423.50C429.57 422.30 427.98 422.42 430.00 422.20" fill="none" stroke="#b00510" stroke-width="1.10"/>
<path d="M300.00 444.30C305.50 443.78 323.00 442.23 333.00 441.20C343.00 440.17 345.85 439.88 360.00 438.10C374.15 436.32 406.23 432.03 417.90 430.50C429.57 428.97 427.98 429.17 430.00 428.90" fill="none" stroke="#b00510" stroke-width="1.10"/>
</g>
<g clip-path="url(#cl1)">
<path d="M245.55 227.48 V440.43" stroke="#666" stroke-width="0.95" stroke-dasharray="11.1 4.4" stroke-dashoffset="2.10" fill="none"/>
<path d="M74.00 384.30 H417.50" stroke="#666" stroke-width="0.95" stroke-dasharray="11.1 4.4" stroke-dashoffset="6.60" fill="none"/>
</g>
<g clip-path="url(#cr1)">
<path d="M506.59 314.10C506.66 312.91 509.16 311.48 510.94 310.60C512.72 309.71 515.21 309.16 517.27 308.76C519.32 308.36 521.26 308.31 523.25 308.21C525.24 308.11 527.23 308.11 529.22 308.14C531.22 308.16 533.22 308.26 535.22 308.37C537.22 308.49 539.22 308.66 541.23 308.84C543.23 309.01 545.24 309.23 547.24 309.44C549.25 309.65 551.26 309.88 553.26 310.10C555.27 310.33 557.27 310.55 559.28 310.78C561.28 311.01 563.29 311.24 565.29 311.47C567.29 311.69 569.30 311.92 571.30 312.15C573.30 312.38 575.31 312.61 577.31 312.84C579.31 313.07 581.32 313.30 583.32 313.53C585.32 313.76 587.32 313.99 589.33 314.22C591.33 314.44 593.33 314.67 595.33 314.89C597.34 315.12 599.34 315.34 601.34 315.56C603.34 315.78 605.35 316.00 607.35 316.21C609.35 316.42 611.35 316.64 613.36 316.85C615.36 317.05 617.36 317.26 619.37 317.46C621.37 317.66 623.37 317.86 625.38 318.05C627.38 318.25 629.38 318.44 631.39 318.62C633.39 318.81 635.40 318.99 637.40 319.17C639.41 319.35 641.41 319.53 643.42 319.71C645.42 319.88 647.43 320.06 649.43 320.24C651.44 320.42 653.45 320.59 655.45 320.77C657.46 320.95 659.46 321.13 661.47 321.32C663.47 321.50 665.48 321.69 667.48 321.88C669.49 322.07 671.49 322.27 673.50 322.47C675.50 322.68 677.51 322.88 679.51 323.10C681.52 323.32 683.52 323.54 685.53 323.77C687.53 324.00 689.53 324.24 691.54 324.49C693.54 324.74 695.54 325.00 697.55 325.27C699.55 325.54 701.55 325.82 703.55 326.11C705.55 326.40 707.56 326.71 709.55 327.03C711.55 327.34 713.55 327.67 715.54 328.00C717.53 328.32 719.52 328.66 721.50 328.99C723.47 329.31 725.44 329.64 727.40 329.95C729.36 330.26 731.29 330.55 733.24 330.85C735.19 331.16 737.10 331.42 739.11 331.81C741.13 332.19 743.24 332.58 745.32 333.15C747.41 333.72 750.65 334.44 751.63 335.23C752.61 336.02 752.27 337.15 751.21 337.90C750.15 338.65 747.28 339.35 745.27 339.73C743.25 340.12 741.16 340.14 739.10 340.19C737.04 340.24 734.97 340.10 732.92 340.02C730.87 339.94 728.82 339.84 726.79 339.73C724.75 339.62 722.72 339.50 720.70 339.37C718.68 339.24 716.66 339.10 714.65 338.96C712.64 338.81 710.63 338.65 708.63 338.49C706.63 338.33 704.63 338.16 702.63 337.98C700.63 337.81 698.64 337.63 696.64 337.45C694.64 337.27 692.65 337.08 690.65 336.89C688.66 336.71 686.66 336.52 684.66 336.33C682.66 336.14 680.66 335.95 678.66 335.75C676.66 335.56 674.66 335.37 672.66 335.18C670.66 334.99 668.65 334.79 666.65 334.60C664.65 334.41 662.64 334.21 660.63 334.02C658.63 333.83 656.62 333.64 654.62 333.45C652.61 333.26 650.60 333.07 648.59 332.88C646.58 332.69 644.58 332.51 642.57 332.32C640.56 332.13 638.55 331.95 636.54 331.77C634.53 331.59 632.52 331.41 630.51 331.23C628.50 331.06 626.49 330.88 624.48 330.71C622.47 330.54 620.45 330.37 618.44 330.21C616.43 330.04 614.42 329.88 612.41 329.72C610.40 329.56 608.39 329.41 606.38 329.26C604.37 329.11 602.36 328.96 600.35 328.81C598.34 328.67 596.33 328.53 594.32 328.39C592.31 328.24 590.31 328.11 588.30 327.97C586.29 327.83 584.28 327.69 582.27 327.55C580.26 327.41 578.26 327.27 576.25 327.13C574.24 326.99 572.23 326.85 570.23 326.70C568.22 326.56 566.21 326.41 564.21 326.26C562.20 326.11 560.19 325.96 558.19 325.80C556.18 325.64 554.18 325.48 552.17 325.31C550.16 325.14 548.16 324.97 546.16 324.79C544.15 324.61 542.15 324.43 540.14 324.24C538.14 324.04 536.13 323.85 534.13 323.64C532.13 323.43 530.12 323.24 528.13 322.95C526.14 322.67 524.14 322.38 522.17 321.93C520.19 321.49 518.23 320.99 516.28 320.28C514.34 319.58 512.13 318.73 510.52 317.70C508.90 316.67 506.52 315.28 506.59 314.10Z" fill="#5f5fcd" stroke="#000" stroke-width="1.25" stroke-linejoin="round"/>
<path d="M534.70 317.01C534.74 316.16 537.86 315.12 539.73 314.57C541.60 314.03 543.92 313.86 545.94 313.74C547.95 313.63 549.83 313.79 551.81 313.87C553.79 313.96 555.79 314.11 557.80 314.26C559.82 314.41 561.86 314.58 563.89 314.76C565.92 314.94 567.96 315.13 569.98 315.33C572.01 315.52 574.02 315.72 576.03 315.92C578.04 316.13 580.05 316.33 582.05 316.54C584.04 316.75 586.04 316.96 588.03 317.17C590.01 317.39 592.00 317.60 593.98 317.82C595.97 318.03 597.94 318.25 599.92 318.47C601.90 318.68 603.88 318.90 605.86 319.11C607.84 319.33 609.82 319.54 611.80 319.75C613.78 319.97 615.76 320.18 617.74 320.39C619.72 320.59 621.71 320.80 623.70 321.00C625.69 321.20 627.69 321.40 629.69 321.59C631.69 321.78 633.70 321.97 635.71 322.16C637.72 322.34 639.74 322.52 641.77 322.69C643.80 322.86 645.83 323.03 647.87 323.19C649.91 323.36 651.95 323.51 654.00 323.67C656.04 323.83 658.08 323.99 660.12 324.14C662.17 324.30 664.21 324.46 666.24 324.62C668.27 324.78 670.31 324.94 672.33 325.11C674.35 325.28 676.36 325.45 678.36 325.63C680.37 325.81 682.36 325.99 684.34 326.19C686.31 326.38 688.28 326.58 690.22 326.80C692.17 327.01 694.10 327.23 696.01 327.47C697.92 327.70 699.81 327.95 701.67 328.21C703.54 328.48 705.35 328.75 707.20 329.05C709.05 329.34 710.83 329.65 712.77 329.99C714.71 330.33 716.65 330.68 718.85 331.08C721.05 331.47 723.48 331.89 725.96 332.35C728.44 332.81 731.90 333.30 733.74 333.85C735.59 334.39 737.33 335.03 737.04 335.63C736.75 336.23 733.92 337.02 732.00 337.45C730.07 337.88 727.57 338.10 725.49 338.19C723.40 338.28 721.45 338.11 719.48 337.97C717.51 337.83 715.60 337.55 713.64 337.34C711.69 337.14 709.72 336.92 707.74 336.72C705.76 336.52 703.76 336.33 701.76 336.14C699.75 335.95 697.74 335.76 695.73 335.58C693.71 335.39 691.69 335.21 689.68 335.02C687.67 334.83 685.65 334.63 683.64 334.44C681.63 334.24 679.63 334.04 677.62 333.84C675.62 333.63 673.61 333.43 671.61 333.22C669.61 333.01 667.61 332.80 665.61 332.58C663.62 332.37 661.62 332.16 659.62 331.94C657.63 331.73 655.63 331.51 653.64 331.29C651.64 331.08 649.65 330.86 647.65 330.64C645.66 330.42 643.67 330.21 641.67 329.99C639.68 329.77 637.68 329.56 635.69 329.34C633.69 329.13 631.70 328.91 629.70 328.70C627.70 328.49 625.71 328.28 623.71 328.07C621.71 327.86 619.71 327.66 617.70 327.45C615.70 327.25 613.70 327.05 611.69 326.85C609.68 326.66 607.68 326.46 605.67 326.27C603.66 326.08 601.65 325.89 599.65 325.70C597.64 325.52 595.63 325.33 593.62 325.15C591.61 324.97 589.60 324.79 587.60 324.61C585.59 324.44 583.59 324.26 581.58 324.09C579.58 323.91 577.57 323.74 575.57 323.57C573.57 323.41 571.57 323.24 569.58 323.07C567.58 322.91 565.59 322.74 563.60 322.58C561.61 322.42 559.62 322.26 557.64 322.10C555.66 321.94 553.68 321.80 551.70 321.62C549.72 321.45 547.78 321.38 545.74 321.06C543.71 320.74 541.31 320.39 539.47 319.71C537.63 319.04 534.66 317.87 534.70 317.01Z" fill="#8080fe" stroke="#000" stroke-width="1.25" stroke-linejoin="round"/>
<path d="M653.09 327.57C652.43 327.18 653.03 326.90 654.45 326.79C655.87 326.67 658.87 326.79 661.61 326.90C664.34 327.02 667.98 327.28 670.88 327.49C673.78 327.69 676.57 327.93 679.01 328.15C681.45 328.36 683.52 328.57 685.53 328.78C687.53 328.99 689.26 329.20 691.03 329.41C692.80 329.61 694.41 329.82 696.15 330.03C697.88 330.24 699.58 330.44 701.46 330.67C703.35 330.91 705.28 331.14 707.46 331.44C709.64 331.74 712.17 332.08 714.53 332.47C716.88 332.86 720.45 333.39 721.59 333.79C722.73 334.19 722.60 334.62 721.37 334.87C720.14 335.13 716.55 335.28 714.20 335.32C711.85 335.35 709.44 335.24 707.29 335.09C705.15 334.94 703.27 334.67 701.32 334.43C699.37 334.19 697.53 333.89 695.58 333.63C693.64 333.37 691.66 333.12 689.66 332.87C687.65 332.63 685.61 332.40 683.56 332.17C681.50 331.94 679.42 331.72 677.33 331.51C675.25 331.30 673.14 331.11 671.04 330.89C668.94 330.67 666.82 330.49 664.73 330.20C662.63 329.91 660.40 329.58 658.46 329.14C656.52 328.70 653.76 327.97 653.09 327.57Z" fill="#b2b2fd" stroke="#000" stroke-width="1.00" stroke-linejoin="round"/>
<path d="M609.44 227.48 V440.43" stroke="#666" stroke-width="0.95" stroke-dasharray="11.1 4.4" stroke-dashoffset="2.10" fill="none"/>
<path d="M437.50 384.30 H781.50" stroke="#666" stroke-width="0.95" stroke-dasharray="11.1 4.4" stroke-dashoffset="6.60" fill="none"/>
<use href="#star" x="695.60" y="331.40"/>
</g>
<path d="M84.55 227.48 v6.30 M84.55 440.43 v-6.30M95.28 227.48 v3.40 M95.28 440.43 v-3.40M106.02 227.48 v3.40 M106.02 440.43 v-3.40M116.75 227.48 v3.40 M116.75 440.43 v-3.40M127.48 227.48 v3.40 M127.48 440.43 v-3.40M138.22 227.48 v6.30 M138.22 440.43 v-6.30M148.95 227.48 v3.40 M148.95 440.43 v-3.40M159.68 227.48 v3.40 M159.68 440.43 v-3.40M170.41 227.48 v3.40 M170.41 440.43 v-3.40M181.15 227.48 v3.40 M181.15 440.43 v-3.40M191.88 227.48 v6.30 M191.88 440.43 v-6.30M202.61 227.48 v3.40 M202.61 440.43 v-3.40M213.35 227.48 v3.40 M213.35 440.43 v-3.40M224.08 227.48 v3.40 M224.08 440.43 v-3.40M234.81 227.48 v3.40 M234.81 440.43 v-3.40M245.55 227.48 v6.30 M245.55 440.43 v-6.30M256.28 227.48 v3.40 M256.28 440.43 v-3.40M267.01 227.48 v3.40 M267.01 440.43 v-3.40M277.74 227.48 v3.40 M277.74 440.43 v-3.40M288.48 227.48 v3.40 M288.48 440.43 v-3.40M299.21 227.48 v6.30 M299.21 440.43 v-6.30M309.94 227.48 v3.40 M309.94 440.43 v-3.40M320.68 227.48 v3.40 M320.68 440.43 v-3.40M331.41 227.48 v3.40 M331.41 440.43 v-3.40M342.14 227.48 v3.40 M342.14 440.43 v-3.40M352.88 227.48 v6.30 M352.88 440.43 v-6.30M363.61 227.48 v3.40 M363.61 440.43 v-3.40M374.34 227.48 v3.40 M374.34 440.43 v-3.40M385.07 227.48 v3.40 M385.07 440.43 v-3.40M395.81 227.48 v3.40 M395.81 440.43 v-3.40M406.54 227.48 v6.30 M406.54 440.43 v-6.30M417.27 227.48 v3.40 M417.27 440.43 v-3.40M74.00 440.16 h3.40 M417.50 440.16 h-3.40M74.00 434.58 h6.30 M417.50 434.58 h-6.30M74.00 428.99 h3.40 M417.50 428.99 h-3.40M74.00 423.40 h3.40 M417.50 423.40 h-3.40M74.00 417.82 h3.40 M417.50 417.82 h-3.40M74.00 412.23 h3.40 M417.50 412.23 h-3.40M74.00 406.65 h3.40 M417.50 406.65 h-3.40M74.00 401.06 h3.40 M417.50 401.06 h-3.40M74.00 395.47 h3.40 M417.50 395.47 h-3.40M74.00 389.89 h3.40 M417.50 389.89 h-3.40M74.00 384.30 h6.30 M417.50 384.30 h-6.30M74.00 378.72 h3.40 M417.50 378.72 h-3.40M74.00 373.13 h3.40 M417.50 373.13 h-3.40M74.00 367.54 h3.40 M417.50 367.54 h-3.40M74.00 361.96 h3.40 M417.50 361.96 h-3.40M74.00 356.37 h3.40 M417.50 356.37 h-3.40M74.00 350.79 h3.40 M417.50 350.79 h-3.40M74.00 345.20 h3.40 M417.50 345.20 h-3.40M74.00 339.61 h3.40 M417.50 339.61 h-3.40M74.00 334.03 h6.30 M417.50 334.03 h-6.30M74.00 328.44 h3.40 M417.50 328.44 h-3.40M74.00 322.86 h3.40 M417.50 322.86 h-3.40M74.00 317.27 h3.40 M417.50 317.27 h-3.40M74.00 311.68 h3.40 M417.50 311.68 h-3.40M74.00 306.10 h3.40 M417.50 306.10 h-3.40M74.00 300.51 h3.40 M417.50 300.51 h-3.40M74.00 294.93 h3.40 M417.50 294.93 h-3.40M74.00 289.34 h3.40 M417.50 289.34 h-3.40M74.00 283.75 h6.30 M417.50 283.75 h-6.30M74.00 278.17 h3.40 M417.50 278.17 h-3.40M74.00 272.58 h3.40 M417.50 272.58 h-3.40M74.00 267.00 h3.40 M417.50 267.00 h-3.40M74.00 261.41 h3.40 M417.50 261.41 h-3.40M74.00 255.82 h3.40 M417.50 255.82 h-3.40M74.00 250.24 h3.40 M417.50 250.24 h-3.40M74.00 244.65 h3.40 M417.50 244.65 h-3.40M74.00 239.07 h3.40 M417.50 239.07 h-3.40M74.00 233.48 h6.30 M417.50 233.48 h-6.30M74.00 227.89 h3.40 M417.50 227.89 h-3.40" stroke="#606060" stroke-width="0.60" fill="none"/>
<rect x="74.00" y="227.48" width="343.50" height="212.95" fill="none" stroke="#8a8a8a" stroke-width="0.75"/>
<path d="M437.72 227.48 v3.40 M437.72 440.43 v-3.40M448.45 227.48 v6.30 M448.45 440.43 v-6.30M459.18 227.48 v3.40 M459.18 440.43 v-3.40M469.92 227.48 v3.40 M469.92 440.43 v-3.40M480.65 227.48 v3.40 M480.65 440.43 v-3.40M491.38 227.48 v3.40 M491.38 440.43 v-3.40M502.12 227.48 v6.30 M502.12 440.43 v-6.30M512.85 227.48 v3.40 M512.85 440.43 v-3.40M523.58 227.48 v3.40 M523.58 440.43 v-3.40M534.31 227.48 v3.40 M534.31 440.43 v-3.40M545.05 227.48 v3.40 M545.05 440.43 v-3.40M555.78 227.48 v6.30 M555.78 440.43 v-6.30M566.51 227.48 v3.40 M566.51 440.43 v-3.40M577.25 227.48 v3.40 M577.25 440.43 v-3.40M587.98 227.48 v3.40 M587.98 440.43 v-3.40M598.71 227.48 v3.40 M598.71 440.43 v-3.40M609.44 227.48 v6.30 M609.44 440.43 v-6.30M620.18 227.48 v3.40 M620.18 440.43 v-3.40M630.91 227.48 v3.40 M630.91 440.43 v-3.40M641.64 227.48 v3.40 M641.64 440.43 v-3.40M652.38 227.48 v3.40 M652.38 440.43 v-3.40M663.11 227.48 v6.30 M663.11 440.43 v-6.30M673.84 227.48 v3.40 M673.84 440.43 v-3.40M684.58 227.48 v3.40 M684.58 440.43 v-3.40M695.31 227.48 v3.40 M695.31 440.43 v-3.40M706.04 227.48 v3.40 M706.04 440.43 v-3.40M716.77 227.48 v6.30 M716.77 440.43 v-6.30M727.51 227.48 v3.40 M727.51 440.43 v-3.40M738.24 227.48 v3.40 M738.24 440.43 v-3.40M748.97 227.48 v3.40 M748.97 440.43 v-3.40M759.71 227.48 v3.40 M759.71 440.43 v-3.40M770.44 227.48 v6.30 M770.44 440.43 v-6.30M781.17 227.48 v3.40 M781.17 440.43 v-3.40M437.50 440.16 h3.40 M781.50 440.16 h-3.40M437.50 434.58 h6.30 M781.50 434.58 h-6.30M437.50 428.99 h3.40 M781.50 428.99 h-3.40M437.50 423.40 h3.40 M781.50 423.40 h-3.40M437.50 417.82 h3.40 M781.50 417.82 h-3.40M437.50 412.23 h3.40 M781.50 412.23 h-3.40M437.50 406.65 h3.40 M781.50 406.65 h-3.40M437.50 401.06 h3.40 M781.50 401.06 h-3.40M437.50 395.47 h3.40 M781.50 395.47 h-3.40M437.50 389.89 h3.40 M781.50 389.89 h-3.40M437.50 384.30 h6.30 M781.50 384.30 h-6.30M437.50 378.72 h3.40 M781.50 378.72 h-3.40M437.50 373.13 h3.40 M781.50 373.13 h-3.40M437.50 367.54 h3.40 M781.50 367.54 h-3.40M437.50 361.96 h3.40 M781.50 361.96 h-3.40M437.50 356.37 h3.40 M781.50 356.37 h-3.40M437.50 350.79 h3.40 M781.50 350.79 h-3.40M437.50 345.20 h3.40 M781.50 345.20 h-3.40M437.50 339.61 h3.40 M781.50 339.61 h-3.40M437.50 334.03 h6.30 M781.50 334.03 h-6.30M437.50 328.44 h3.40 M781.50 328.44 h-3.40M437.50 322.86 h3.40 M781.50 322.86 h-3.40M437.50 317.27 h3.40 M781.50 317.27 h-3.40M437.50 311.68 h3.40 M781.50 311.68 h-3.40M437.50 306.10 h3.40 M781.50 306.10 h-3.40M437.50 300.51 h3.40 M781.50 300.51 h-3.40M437.50 294.93 h3.40 M781.50 294.93 h-3.40M437.50 289.34 h3.40 M781.50 289.34 h-3.40M437.50 283.75 h6.30 M781.50 283.75 h-6.30M437.50 278.17 h3.40 M781.50 278.17 h-3.40M437.50 272.58 h3.40 M781.50 272.58 h-3.40M437.50 267.00 h3.40 M781.50 267.00 h-3.40M437.50 261.41 h3.40 M781.50 261.41 h-3.40M437.50 255.82 h3.40 M781.50 255.82 h-3.40M437.50 250.24 h3.40 M781.50 250.24 h-3.40M437.50 244.65 h3.40 M781.50 244.65 h-3.40M437.50 239.07 h3.40 M781.50 239.07 h-3.40M437.50 233.48 h6.30 M781.50 233.48 h-6.30M437.50 227.89 h3.40 M781.50 227.89 h-3.40" stroke="#606060" stroke-width="0.60" fill="none"/>
<rect x="437.50" y="227.48" width="344.00" height="212.95" fill="none" stroke="#8a8a8a" stroke-width="0.75"/>
<g clip-path="url(#cl2)">
<g transform="translate(0 444.06)">
<path d="M147.59 115.72C147.58 113.68 147.70 111.61 147.93 109.56C148.15 107.52 148.50 105.46 148.95 103.45C149.41 101.43 149.97 99.42 150.64 97.47C151.31 95.52 152.08 93.59 152.95 91.74C153.82 89.89 154.80 88.08 155.86 86.35C156.91 84.63 158.07 82.97 159.31 81.41C160.55 79.86 161.88 78.38 163.29 77.02C164.70 75.66 166.19 74.40 167.76 73.28C169.32 72.15 170.97 71.15 172.67 70.27C174.37 69.38 176.15 68.63 177.98 67.96C179.80 67.29 181.69 66.74 183.61 66.25C185.53 65.76 187.50 65.38 189.49 65.04C191.49 64.71 193.52 64.46 195.57 64.24C197.62 64.03 199.69 63.88 201.77 63.75C203.84 63.62 205.94 63.54 208.02 63.46C210.11 63.38 212.20 63.34 214.26 63.28C216.33 63.22 218.39 63.18 220.43 63.12C222.47 63.06 224.49 62.99 226.50 62.91C228.51 62.83 230.51 62.74 232.49 62.63C234.48 62.53 236.46 62.40 238.43 62.25C240.40 62.10 242.36 61.94 244.32 61.74C246.27 61.54 248.22 61.32 250.17 61.06C252.12 60.80 254.07 60.51 256.02 60.18C257.97 59.85 259.92 59.49 261.86 59.08C263.81 58.67 265.76 58.23 267.71 57.74C269.65 57.26 271.59 56.73 273.53 56.17C275.47 55.61 277.40 55.00 279.32 54.36C281.24 53.72 283.16 53.05 285.06 52.33C286.96 51.61 288.86 50.86 290.74 50.07C292.62 49.28 294.48 48.45 296.33 47.58C298.18 46.72 300.01 45.81 301.83 44.87C303.64 43.94 305.43 42.94 307.22 41.95C309.00 40.96 310.76 39.92 312.53 38.93C314.30 37.93 316.06 36.92 317.84 35.99C319.62 35.05 321.40 34.13 323.21 33.31C325.02 32.50 326.85 31.73 328.72 31.10C330.59 30.46 332.50 29.91 334.44 29.52C336.38 29.14 338.38 28.86 340.34 28.77C342.30 28.69 344.30 28.74 346.22 29.00C348.14 29.27 350.06 29.71 351.87 30.37C353.69 31.03 355.45 31.91 357.13 32.94C358.80 33.97 360.41 35.21 361.93 36.55C363.44 37.88 364.88 39.39 366.23 40.97C367.57 42.55 368.83 44.26 369.99 46.01C371.15 47.75 372.21 49.60 373.17 51.45C374.13 53.30 374.98 55.20 375.73 57.09C376.48 58.98 377.12 60.89 377.69 62.80C378.26 64.72 378.73 66.64 379.15 68.57C379.56 70.51 379.90 72.45 380.21 74.40C380.51 76.35 380.75 78.30 380.98 80.27C381.21 82.23 381.39 84.20 381.57 86.18C381.76 88.15 381.91 90.14 382.09 92.13C382.27 94.11 382.44 96.11 382.65 98.11C382.85 100.10 383.08 102.10 383.34 104.11C383.60 106.11 383.90 108.12 384.20 110.13C384.50 112.14 384.83 114.16 385.15 116.17C385.47 118.18 385.81 120.19 386.12 122.21C386.43 124.22 386.74 126.23 387.01 128.24C387.28 130.25 387.53 132.26 387.73 134.27C387.93 136.27 388.11 138.28 388.21 140.27C388.32 142.27 388.38 144.27 388.37 146.25C388.35 148.24 388.29 150.22 388.14 152.19C388.00 154.16 387.79 156.12 387.51 158.07C387.22 160.01 386.87 161.95 386.42 163.87C385.98 165.78 385.46 167.69 384.85 169.57C384.24 171.45 383.55 173.32 382.76 175.16C381.96 177.00 381.08 178.83 380.10 180.62C379.11 182.41 378.02 184.20 376.85 185.92C375.67 187.64 374.39 189.34 373.04 190.94C371.69 192.54 370.24 194.09 368.73 195.51C367.23 196.93 365.63 198.27 363.99 199.46C362.34 200.65 360.63 201.73 358.86 202.63C357.10 203.53 355.28 204.30 353.42 204.86C351.57 205.42 349.65 205.80 347.73 205.99C345.81 206.17 343.85 206.17 341.92 205.98C339.99 205.79 338.05 205.40 336.15 204.84C334.25 204.29 332.38 203.48 330.53 202.66C328.68 201.83 326.86 200.84 325.04 199.91C323.23 198.97 321.43 198.00 319.63 197.04C317.84 196.08 316.05 195.11 314.27 194.16C312.48 193.20 310.71 192.24 308.93 191.29C307.15 190.35 305.37 189.41 303.59 188.49C301.80 187.57 300.02 186.66 298.22 185.79C296.43 184.91 294.62 184.05 292.80 183.23C290.99 182.41 289.16 181.61 287.31 180.85C285.46 180.10 283.60 179.38 281.72 178.70C279.83 178.02 277.93 177.39 276.01 176.79C274.09 176.19 272.16 175.63 270.21 175.11C268.27 174.59 266.31 174.11 264.34 173.65C262.37 173.20 260.39 172.78 258.41 172.40C256.42 172.01 254.43 171.66 252.44 171.33C250.44 171.01 248.44 170.71 246.44 170.44C244.45 170.17 242.44 169.93 240.45 169.71C238.45 169.50 236.46 169.31 234.46 169.13C232.47 168.95 230.49 168.80 228.50 168.65C226.51 168.50 224.53 168.36 222.55 168.21C220.57 168.05 218.59 167.91 216.61 167.73C214.63 167.56 212.65 167.38 210.67 167.16C208.69 166.95 206.71 166.71 204.73 166.43C202.75 166.15 200.77 165.84 198.79 165.47C196.81 165.10 194.82 164.70 192.84 164.22C190.85 163.74 188.85 163.21 186.88 162.61C184.91 162.01 182.94 161.35 181.01 160.62C179.09 159.88 177.18 159.08 175.33 158.20C173.49 157.32 171.68 156.37 169.95 155.33C168.22 154.29 166.54 153.18 164.96 151.98C163.38 150.78 161.87 149.49 160.48 148.12C159.09 146.74 157.78 145.27 156.60 143.72C155.43 142.16 154.36 140.51 153.41 138.80C152.45 137.08 151.61 135.28 150.89 133.44C150.17 131.60 149.57 129.69 149.08 127.75C148.60 125.81 148.23 123.82 147.98 121.81C147.73 119.81 147.60 117.76 147.59 115.72Z" fill="#5f5fcd" stroke="#000" stroke-width="1.25" stroke-linejoin="round"/><path d="M172.16 119.05C172.17 116.98 172.39 114.83 172.78 112.78C173.16 110.72 173.75 108.64 174.49 106.70C175.24 104.76 176.16 102.86 177.23 101.16C178.31 99.46 179.55 97.85 180.93 96.48C182.30 95.12 183.85 93.95 185.49 92.97C187.12 92.00 188.91 91.25 190.75 90.65C192.58 90.06 194.54 89.66 196.51 89.40C198.48 89.14 200.54 89.06 202.57 89.10C204.61 89.14 206.69 89.33 208.73 89.63C210.77 89.92 212.80 90.36 214.80 90.85C216.80 91.34 218.76 91.96 220.72 92.56C222.68 93.17 224.62 93.86 226.55 94.50C228.49 95.14 230.41 95.81 232.35 96.39C234.28 96.96 236.21 97.53 238.15 97.95C240.10 98.38 242.05 98.75 244.02 98.94C245.99 99.12 248.00 99.19 249.99 99.08C251.98 98.98 254.00 98.71 255.96 98.30C257.92 97.89 259.88 97.33 261.76 96.62C263.63 95.90 265.47 95.03 267.21 94.03C268.95 93.04 270.60 91.85 272.22 90.64C273.84 89.43 275.38 88.08 276.95 86.78C278.51 85.47 280.04 84.11 281.60 82.81C283.17 81.51 284.73 80.22 286.32 78.98C287.92 77.73 289.52 76.52 291.14 75.35C292.77 74.17 294.41 73.03 296.08 71.94C297.75 70.84 299.44 69.79 301.16 68.78C302.88 67.78 304.63 66.82 306.40 65.92C308.18 65.02 309.98 64.16 311.83 63.37C313.68 62.59 315.56 61.86 317.50 61.22C319.44 60.58 321.44 60.01 323.47 59.55C325.50 59.10 327.60 58.71 329.67 58.50C331.73 58.28 333.84 58.16 335.87 58.24C337.90 58.32 339.93 58.53 341.84 58.96C343.76 59.40 345.64 60.01 347.38 60.86C349.11 61.71 350.76 62.80 352.25 64.05C353.74 65.30 355.11 66.78 356.31 68.35C357.51 69.93 358.56 71.68 359.44 73.48C360.33 75.28 360.99 77.21 361.62 79.15C362.25 81.09 362.71 83.10 363.19 85.09C363.68 87.08 364.11 89.09 364.54 91.09C364.97 93.09 365.37 95.09 365.76 97.08C366.16 99.08 366.54 101.07 366.91 103.06C367.29 105.05 367.66 107.03 368.03 109.01C368.40 110.99 368.77 112.96 369.15 114.93C369.53 116.89 369.92 118.85 370.32 120.80C370.72 122.75 371.16 124.69 371.56 126.63C371.96 128.58 372.38 130.51 372.73 132.48C373.08 134.44 373.41 136.40 373.65 138.40C373.88 140.39 374.07 142.41 374.13 144.47C374.19 146.52 374.17 148.64 374.01 150.72C373.84 152.80 373.58 154.92 373.15 156.96C372.73 158.99 372.18 161.02 371.46 162.91C370.74 164.81 369.88 166.66 368.83 168.33C367.78 170.00 366.55 171.56 365.17 172.94C363.79 174.33 362.21 175.56 360.56 176.64C358.91 177.72 357.10 178.64 355.25 179.41C353.41 180.17 351.45 180.79 349.50 181.24C347.55 181.70 345.53 182.00 343.55 182.15C341.58 182.30 339.60 182.28 337.64 182.14C335.68 182.00 333.74 181.70 331.80 181.31C329.87 180.93 327.95 180.41 326.04 179.82C324.13 179.24 322.23 178.55 320.34 177.81C318.44 177.08 316.56 176.26 314.68 175.43C312.79 174.60 310.92 173.71 309.05 172.82C307.17 171.94 305.30 171.02 303.43 170.13C301.56 169.24 299.70 168.36 297.83 167.49C295.96 166.62 294.09 165.76 292.22 164.92C290.35 164.09 288.48 163.26 286.61 162.47C284.74 161.67 282.87 160.90 280.99 160.15C279.11 159.40 277.23 158.68 275.35 157.99C273.47 157.29 271.58 156.63 269.69 156.01C267.80 155.38 265.91 154.79 264.00 154.23C262.10 153.68 260.20 153.17 258.29 152.70C256.37 152.23 254.45 151.80 252.53 151.41C250.60 151.02 248.67 150.67 246.72 150.35C244.78 150.04 242.82 149.76 240.85 149.51C238.89 149.26 236.91 149.05 234.91 148.86C232.92 148.66 230.92 148.50 228.89 148.36C226.87 148.22 224.83 148.11 222.78 148.01C220.72 147.91 218.64 147.84 216.55 147.77C214.46 147.70 212.34 147.68 210.24 147.60C208.13 147.52 206.01 147.46 203.94 147.30C201.86 147.15 199.79 146.97 197.79 146.66C195.80 146.35 193.83 145.98 191.96 145.44C190.09 144.90 188.27 144.27 186.57 143.42C184.87 142.58 183.24 141.59 181.77 140.38C180.29 139.17 178.91 137.73 177.72 136.17C176.53 134.61 175.46 132.85 174.63 131.02C173.80 129.19 173.15 127.21 172.74 125.22C172.33 123.23 172.16 121.13 172.16 119.05Z" fill="#8080fe" stroke="#000" stroke-width="1.25" stroke-linejoin="round"/><path d="M297.60 124.09C298.60 122.30 299.73 120.56 300.91 118.86C302.08 117.16 303.33 115.51 304.65 113.90C305.96 112.30 307.35 110.75 308.82 109.24C310.28 107.74 311.82 106.25 313.43 104.87C315.04 103.48 316.74 102.00 318.49 100.93C320.23 99.87 322.07 98.90 323.91 98.45C325.76 98.00 327.69 97.98 329.56 98.24C331.42 98.50 333.32 99.16 335.10 99.99C336.87 100.83 338.63 101.99 340.20 103.26C341.77 104.53 343.23 106.04 344.54 107.60C345.84 109.17 346.97 110.89 348.03 112.66C349.09 114.43 350.01 116.31 350.90 118.19C351.79 120.08 352.57 122.04 353.36 123.97C354.15 125.90 354.93 127.84 355.64 129.76C356.36 131.69 357.08 133.59 357.64 135.53C358.20 137.47 358.72 139.40 359.00 141.40C359.28 143.39 359.46 145.46 359.34 147.49C359.21 149.53 358.91 151.68 358.26 153.60C357.60 155.53 356.60 157.43 355.40 159.04C354.19 160.65 352.61 162.11 351.02 163.25C349.42 164.39 347.64 165.25 345.83 165.87C344.02 166.49 342.11 166.81 340.17 166.97C338.22 167.12 336.20 167.03 334.17 166.82C332.14 166.61 330.06 166.19 328.00 165.71C325.93 165.23 323.83 164.60 321.78 163.93C319.73 163.25 317.66 162.51 315.69 161.67C313.71 160.83 311.76 159.92 309.93 158.90C308.10 157.88 306.33 156.78 304.73 155.56C303.12 154.34 301.60 153.02 300.29 151.58C298.98 150.14 297.79 148.58 296.84 146.90C295.89 145.21 295.10 143.35 294.60 141.46C294.10 139.56 293.79 137.50 293.85 135.53C293.90 133.56 294.29 131.54 294.92 129.63C295.54 127.73 296.60 125.89 297.60 124.09Z" fill="#b2b2fd" stroke="#000" stroke-width="1.25" stroke-linejoin="round"/>
</g>
<use href="#star" x="331.40" y="586.70"/>
</g>
<g clip-path="url(#cb2)">
<path d="M60.00 571.10C62.33 571.07 60.67 571.10 74.00 570.90C87.33 570.70 121.33 570.18 140.00 569.90C158.67 569.62 162.67 569.42 186.00 569.20C209.33 568.98 252.67 568.67 280.00 568.60C307.33 568.53 325.00 568.77 350.00 568.80C375.00 568.83 416.67 568.80 430.00 568.80L430.00 572.00C416.67 572.00 375.00 572.03 350.00 572.00C325.00 571.97 307.33 571.73 280.00 571.80C252.67 571.87 209.33 572.18 186.00 572.40C162.67 572.62 158.67 572.82 140.00 573.10C121.33 573.38 87.33 573.90 74.00 574.10C60.67 574.30 62.33 574.27 60.00 574.30Z" fill="rgba(255,100,100,0.37)" stroke="none"/>
<path d="M60.00 571.10C62.33 571.07 60.67 571.10 74.00 570.90C87.33 570.70 121.33 570.18 140.00 569.90C158.67 569.62 162.67 569.42 186.00 569.20C209.33 568.98 252.67 568.67 280.00 568.60C307.33 568.53 325.00 568.77 350.00 568.80C375.00 568.83 416.67 568.80 430.00 568.80" fill="none" stroke="#b00510" stroke-width="0.90"/>
<path d="M60.00 574.30C62.33 574.27 60.67 574.30 74.00 574.10C87.33 573.90 121.33 573.38 140.00 573.10C158.67 572.82 162.67 572.62 186.00 572.40C209.33 572.18 252.67 571.87 280.00 571.80C307.33 571.73 325.00 571.97 350.00 572.00C375.00 572.03 416.67 572.00 430.00 572.00" fill="none" stroke="#b00510" stroke-width="0.90"/>
<path d="M60.00 637.80C62.33 637.83 53.00 637.57 74.00 638.00C95.00 638.43 151.67 639.92 186.00 640.40C220.33 640.88 260.00 640.85 280.00 640.90C300.00 640.95 281.00 640.80 306.00 640.70C331.00 640.60 409.33 640.37 430.00 640.30L430.00 643.50C409.33 643.55 331.00 643.72 306.00 643.80C281.00 643.88 300.00 644.07 280.00 644.00C260.00 643.93 220.33 643.82 186.00 643.40C151.67 642.98 95.00 641.85 74.00 641.50C53.00 641.15 62.33 641.33 60.00 641.30Z" fill="rgba(255,100,100,0.37)" stroke="none"/>
<path d="M60.00 637.80C62.33 637.83 53.00 637.57 74.00 638.00C95.00 638.43 151.67 639.92 186.00 640.40C220.33 640.88 260.00 640.85 280.00 640.90C300.00 640.95 281.00 640.80 306.00 640.70C331.00 640.60 409.33 640.37 430.00 640.30" fill="none" stroke="#b00510" stroke-width="0.90"/>
<path d="M60.00 641.30C62.33 641.33 53.00 641.15 74.00 641.50C95.00 641.85 151.67 642.98 186.00 643.40C220.33 643.82 260.00 643.93 280.00 644.00C300.00 644.07 281.00 643.88 306.00 643.80C331.00 643.72 409.33 643.55 430.00 643.50" fill="none" stroke="#b00510" stroke-width="0.90"/>
</g>
<g clip-path="url(#cl2)">
<path d="M245.55 449.51 V662.46" stroke="#666" stroke-width="0.95" stroke-dasharray="11.1 4.4" stroke-dashoffset="2.10" fill="none"/>
<path d="M74.00 606.33 H417.50" stroke="#666" stroke-width="0.95" stroke-dasharray="11.1 4.4" stroke-dashoffset="6.60" fill="none"/>
</g>
<g clip-path="url(#cr2)">
<path d="M508.51 571.40C508.51 571.35 509.58 571.30 511.06 571.24C512.54 571.18 514.98 571.12 517.38 571.06C519.79 571.00 522.82 570.94 525.50 570.89C528.18 570.83 530.99 570.78 533.47 570.74C535.94 570.69 538.20 570.65 540.35 570.62C542.51 570.58 544.48 570.55 546.42 570.52C548.35 570.49 550.15 570.47 551.97 570.45C553.79 570.42 555.52 570.40 557.32 570.38C559.13 570.36 560.92 570.34 562.78 570.32C564.64 570.30 566.55 570.28 568.49 570.26C570.42 570.24 572.40 570.22 574.39 570.20C576.39 570.18 578.42 570.16 580.46 570.14C582.50 570.12 584.56 570.10 586.63 570.08C588.71 570.06 590.80 570.04 592.88 570.03C594.97 570.01 597.07 569.99 599.16 569.97C601.24 569.96 603.33 569.94 605.41 569.93C607.48 569.91 609.55 569.90 611.60 569.88C613.65 569.87 615.68 569.85 617.71 569.84C619.73 569.83 621.75 569.82 623.76 569.81C625.77 569.79 627.77 569.78 629.77 569.77C631.78 569.76 633.77 569.75 635.77 569.74C637.77 569.73 639.77 569.72 641.78 569.72C643.79 569.71 645.79 569.70 647.81 569.69C649.84 569.68 651.86 569.68 653.90 569.67C655.94 569.66 657.99 569.66 660.06 569.65C662.13 569.64 664.22 569.64 666.30 569.63C668.39 569.63 670.49 569.62 672.58 569.61C674.66 569.61 676.75 569.60 678.82 569.60C680.88 569.59 682.94 569.59 684.96 569.58C686.99 569.58 688.99 569.58 690.96 569.57C692.92 569.57 694.85 569.56 696.73 569.56C698.60 569.55 700.42 569.55 702.22 569.54C704.02 569.54 705.74 569.54 707.52 569.54C709.30 569.54 711.04 569.54 712.89 569.54C714.74 569.54 716.59 569.55 718.60 569.56C720.61 569.58 722.67 569.59 724.93 569.62C727.19 569.64 729.58 569.67 732.16 569.71C734.73 569.74 737.79 569.79 740.39 569.84C742.99 569.89 745.99 569.95 747.75 570.01C749.51 570.07 750.94 570.14 750.94 570.20C750.94 570.26 749.51 570.33 747.76 570.39C746.00 570.45 743.00 570.51 740.41 570.56C737.81 570.61 734.75 570.66 732.17 570.69C729.59 570.73 727.20 570.76 724.94 570.79C722.68 570.82 720.62 570.84 718.61 570.86C716.60 570.87 714.74 570.89 712.90 570.90C711.05 570.91 709.31 570.92 707.53 570.92C705.75 570.93 704.03 570.94 702.23 570.94C700.43 570.95 698.61 570.96 696.74 570.96C694.86 570.97 692.93 570.98 690.97 570.99C689.01 571.00 687.00 571.01 684.98 571.02C682.95 571.03 680.89 571.04 678.83 571.05C676.76 571.06 674.67 571.07 672.59 571.08C670.50 571.09 668.40 571.10 666.31 571.12C664.23 571.13 662.14 571.14 660.07 571.15C658.01 571.16 655.95 571.17 653.91 571.18C651.87 571.19 649.85 571.20 647.83 571.21C645.81 571.22 643.80 571.23 641.79 571.24C639.78 571.25 637.78 571.26 635.78 571.27C633.78 571.28 631.79 571.29 629.78 571.30C627.78 571.31 625.78 571.32 623.77 571.33C621.76 571.34 619.75 571.35 617.72 571.36C615.69 571.37 613.66 571.38 611.61 571.39C609.56 571.40 607.49 571.41 605.42 571.42C603.35 571.43 601.25 571.44 599.17 571.45C597.08 571.46 594.98 571.47 592.89 571.48C590.81 571.49 588.72 571.50 586.65 571.51C584.57 571.52 582.51 571.53 580.47 571.54C578.43 571.55 576.40 571.56 574.40 571.57C572.41 571.58 570.43 571.59 568.50 571.60C566.56 571.61 564.65 571.62 562.79 571.63C560.93 571.64 559.13 571.66 557.33 571.67C555.53 571.68 553.79 571.69 551.98 571.69C550.16 571.70 548.36 571.71 546.42 571.71C544.49 571.72 542.52 571.72 540.36 571.72C538.20 571.72 535.95 571.72 533.47 571.71C531.00 571.70 528.19 571.69 525.51 571.68C522.83 571.66 519.80 571.64 517.39 571.62C514.98 571.59 512.54 571.56 511.06 571.53C509.58 571.49 508.51 571.45 508.51 571.40Z" fill="#5f5fcd" stroke="#000" stroke-width="0.60" stroke-linejoin="round"/>
<path d="M679.92 642.50C679.92 642.43 681.88 642.35 683.88 642.29C685.88 642.22 689.39 642.16 691.92 642.12C694.44 642.07 696.89 642.05 699.02 642.03C701.14 642.01 702.83 642.00 704.67 642.00C706.51 642.00 708.11 642.00 710.05 642.01C711.98 642.02 713.93 642.03 716.30 642.06C718.67 642.09 721.82 642.14 724.26 642.19C726.70 642.25 729.84 642.32 730.96 642.39C732.07 642.46 732.07 642.54 730.96 642.61C729.84 642.68 726.70 642.75 724.26 642.81C721.82 642.86 718.67 642.91 716.30 642.94C713.93 642.97 711.98 642.98 710.05 642.99C708.11 643.00 706.51 643.00 704.67 643.00C702.83 643.00 701.14 642.99 699.02 642.97C696.89 642.95 694.44 642.93 691.92 642.88C689.39 642.84 685.88 642.78 683.88 642.71C681.88 642.65 679.92 642.57 679.92 642.50Z" fill="#5f5fcd" stroke="#000" stroke-width="0.60" stroke-linejoin="round"/>
<path d="M609.44 449.51 V662.46" stroke="#666" stroke-width="0.95" stroke-dasharray="11.1 4.4" stroke-dashoffset="2.10" fill="none"/>
<path d="M437.50 606.33 H781.50" stroke="#666" stroke-width="0.95" stroke-dasharray="11.1 4.4" stroke-dashoffset="6.60" fill="none"/>
<use href="#star" x="693.90" y="570.20"/>
</g>
<path d="M84.55 449.51 v6.30 M84.55 662.46 v-6.30M95.28 449.51 v3.40 M95.28 662.46 v-3.40M106.02 449.51 v3.40 M106.02 662.46 v-3.40M116.75 449.51 v3.40 M116.75 662.46 v-3.40M127.48 449.51 v3.40 M127.48 662.46 v-3.40M138.22 449.51 v6.30 M138.22 662.46 v-6.30M148.95 449.51 v3.40 M148.95 662.46 v-3.40M159.68 449.51 v3.40 M159.68 662.46 v-3.40M170.41 449.51 v3.40 M170.41 662.46 v-3.40M181.15 449.51 v3.40 M181.15 662.46 v-3.40M191.88 449.51 v6.30 M191.88 662.46 v-6.30M202.61 449.51 v3.40 M202.61 662.46 v-3.40M213.35 449.51 v3.40 M213.35 662.46 v-3.40M224.08 449.51 v3.40 M224.08 662.46 v-3.40M234.81 449.51 v3.40 M234.81 662.46 v-3.40M245.55 449.51 v6.30 M245.55 662.46 v-6.30M256.28 449.51 v3.40 M256.28 662.46 v-3.40M267.01 449.51 v3.40 M267.01 662.46 v-3.40M277.74 449.51 v3.40 M277.74 662.46 v-3.40M288.48 449.51 v3.40 M288.48 662.46 v-3.40M299.21 449.51 v6.30 M299.21 662.46 v-6.30M309.94 449.51 v3.40 M309.94 662.46 v-3.40M320.68 449.51 v3.40 M320.68 662.46 v-3.40M331.41 449.51 v3.40 M331.41 662.46 v-3.40M342.14 449.51 v3.40 M342.14 662.46 v-3.40M352.88 449.51 v6.30 M352.88 662.46 v-6.30M363.61 449.51 v3.40 M363.61 662.46 v-3.40M374.34 449.51 v3.40 M374.34 662.46 v-3.40M385.07 449.51 v3.40 M385.07 662.46 v-3.40M395.81 449.51 v3.40 M395.81 662.46 v-3.40M406.54 449.51 v6.30 M406.54 662.46 v-6.30M417.27 449.51 v3.40 M417.27 662.46 v-3.40M74.00 662.19 h3.40 M417.50 662.19 h-3.40M74.00 656.61 h6.30 M417.50 656.61 h-6.30M74.00 651.02 h3.40 M417.50 651.02 h-3.40M74.00 645.43 h3.40 M417.50 645.43 h-3.40M74.00 639.85 h3.40 M417.50 639.85 h-3.40M74.00 634.26 h3.40 M417.50 634.26 h-3.40M74.00 628.68 h3.40 M417.50 628.68 h-3.40M74.00 623.09 h3.40 M417.50 623.09 h-3.40M74.00 617.50 h3.40 M417.50 617.50 h-3.40M74.00 611.92 h3.40 M417.50 611.92 h-3.40M74.00 606.33 h6.30 M417.50 606.33 h-6.30M74.00 600.75 h3.40 M417.50 600.75 h-3.40M74.00 595.16 h3.40 M417.50 595.16 h-3.40M74.00 589.57 h3.40 M417.50 589.57 h-3.40M74.00 583.99 h3.40 M417.50 583.99 h-3.40M74.00 578.40 h3.40 M417.50 578.40 h-3.40M74.00 572.82 h3.40 M417.50 572.82 h-3.40M74.00 567.23 h3.40 M417.50 567.23 h-3.40M74.00 561.64 h3.40 M417.50 561.64 h-3.40M74.00 556.06 h6.30 M417.50 556.06 h-6.30M74.00 550.47 h3.40 M417.50 550.47 h-3.40M74.00 544.89 h3.40 M417.50 544.89 h-3.40M74.00 539.30 h3.40 M417.50 539.30 h-3.40M74.00 533.71 h3.40 M417.50 533.71 h-3.40M74.00 528.13 h3.40 M417.50 528.13 h-3.40M74.00 522.54 h3.40 M417.50 522.54 h-3.40M74.00 516.96 h3.40 M417.50 516.96 h-3.40M74.00 511.37 h3.40 M417.50 511.37 h-3.40M74.00 505.78 h6.30 M417.50 505.78 h-6.30M74.00 500.20 h3.40 M417.50 500.20 h-3.40M74.00 494.61 h3.40 M417.50 494.61 h-3.40M74.00 489.03 h3.40 M417.50 489.03 h-3.40M74.00 483.44 h3.40 M417.50 483.44 h-3.40M74.00 477.85 h3.40 M417.50 477.85 h-3.40M74.00 472.27 h3.40 M417.50 472.27 h-3.40M74.00 466.68 h3.40 M417.50 466.68 h-3.40M74.00 461.10 h3.40 M417.50 461.10 h-3.40M74.00 455.51 h6.30 M417.50 455.51 h-6.30M74.00 449.92 h3.40 M417.50 449.92 h-3.40" stroke="#606060" stroke-width="0.60" fill="none"/>
<rect x="74.00" y="449.51" width="343.50" height="212.95" fill="none" stroke="#8a8a8a" stroke-width="0.75"/>
<path d="M437.72 449.51 v3.40 M437.72 662.46 v-3.40M448.45 449.51 v6.30 M448.45 662.46 v-6.30M459.18 449.51 v3.40 M459.18 662.46 v-3.40M469.92 449.51 v3.40 M469.92 662.46 v-3.40M480.65 449.51 v3.40 M480.65 662.46 v-3.40M491.38 449.51 v3.40 M491.38 662.46 v-3.40M502.12 449.51 v6.30 M502.12 662.46 v-6.30M512.85 449.51 v3.40 M512.85 662.46 v-3.40M523.58 449.51 v3.40 M523.58 662.46 v-3.40M534.31 449.51 v3.40 M534.31 662.46 v-3.40M545.05 449.51 v3.40 M545.05 662.46 v-3.40M555.78 449.51 v6.30 M555.78 662.46 v-6.30M566.51 449.51 v3.40 M566.51 662.46 v-3.40M577.25 449.51 v3.40 M577.25 662.46 v-3.40M587.98 449.51 v3.40 M587.98 662.46 v-3.40M598.71 449.51 v3.40 M598.71 662.46 v-3.40M609.44 449.51 v6.30 M609.44 662.46 v-6.30M620.18 449.51 v3.40 M620.18 662.46 v-3.40M630.91 449.51 v3.40 M630.91 662.46 v-3.40M641.64 449.51 v3.40 M641.64 662.46 v-3.40M652.38 449.51 v3.40 M652.38 662.46 v-3.40M663.11 449.51 v6.30 M663.11 662.46 v-6.30M673.84 449.51 v3.40 M673.84 662.46 v-3.40M684.58 449.51 v3.40 M684.58 662.46 v-3.40M695.31 449.51 v3.40 M695.31 662.46 v-3.40M706.04 449.51 v3.40 M706.04 662.46 v-3.40M716.77 449.51 v6.30 M716.77 662.46 v-6.30M727.51 449.51 v3.40 M727.51 662.46 v-3.40M738.24 449.51 v3.40 M738.24 662.46 v-3.40M748.97 449.51 v3.40 M748.97 662.46 v-3.40M759.71 449.51 v3.40 M759.71 662.46 v-3.40M770.44 449.51 v6.30 M770.44 662.46 v-6.30M781.17 449.51 v3.40 M781.17 662.46 v-3.40M437.50 662.19 h3.40 M781.50 662.19 h-3.40M437.50 656.61 h6.30 M781.50 656.61 h-6.30M437.50 651.02 h3.40 M781.50 651.02 h-3.40M437.50 645.43 h3.40 M781.50 645.43 h-3.40M437.50 639.85 h3.40 M781.50 639.85 h-3.40M437.50 634.26 h3.40 M781.50 634.26 h-3.40M437.50 628.68 h3.40 M781.50 628.68 h-3.40M437.50 623.09 h3.40 M781.50 623.09 h-3.40M437.50 617.50 h3.40 M781.50 617.50 h-3.40M437.50 611.92 h3.40 M781.50 611.92 h-3.40M437.50 606.33 h6.30 M781.50 606.33 h-6.30M437.50 600.75 h3.40 M781.50 600.75 h-3.40M437.50 595.16 h3.40 M781.50 595.16 h-3.40M437.50 589.57 h3.40 M781.50 589.57 h-3.40M437.50 583.99 h3.40 M781.50 583.99 h-3.40M437.50 578.40 h3.40 M781.50 578.40 h-3.40M437.50 572.82 h3.40 M781.50 572.82 h-3.40M437.50 567.23 h3.40 M781.50 567.23 h-3.40M437.50 561.64 h3.40 M781.50 561.64 h-3.40M437.50 556.06 h6.30 M781.50 556.06 h-6.30M437.50 550.47 h3.40 M781.50 550.47 h-3.40M437.50 544.89 h3.40 M781.50 544.89 h-3.40M437.50 539.30 h3.40 M781.50 539.30 h-3.40M437.50 533.71 h3.40 M781.50 533.71 h-3.40M437.50 528.13 h3.40 M781.50 528.13 h-3.40M437.50 522.54 h3.40 M781.50 522.54 h-3.40M437.50 516.96 h3.40 M781.50 516.96 h-3.40M437.50 511.37 h3.40 M781.50 511.37 h-3.40M437.50 505.78 h6.30 M781.50 505.78 h-6.30M437.50 500.20 h3.40 M781.50 500.20 h-3.40M437.50 494.61 h3.40 M781.50 494.61 h-3.40M437.50 489.03 h3.40 M781.50 489.03 h-3.40M437.50 483.44 h3.40 M781.50 483.44 h-3.40M437.50 477.85 h3.40 M781.50 477.85 h-3.40M437.50 472.27 h3.40 M781.50 472.27 h-3.40M437.50 466.68 h3.40 M781.50 466.68 h-3.40M437.50 461.10 h3.40 M781.50 461.10 h-3.40M437.50 455.51 h6.30 M781.50 455.51 h-6.30M437.50 449.92 h3.40 M781.50 449.92 h-3.40" stroke="#606060" stroke-width="0.60" fill="none"/>
<rect x="437.50" y="449.51" width="344.00" height="212.95" fill="none" stroke="#8a8a8a" stroke-width="0.75"/>
<g clip-path="url(#cl3)">
<g transform="translate(0 666.09)">
<path d="M147.59 115.72C147.58 113.68 147.70 111.61 147.93 109.56C148.15 107.52 148.50 105.46 148.95 103.45C149.41 101.43 149.97 99.42 150.64 97.47C151.31 95.52 152.08 93.59 152.95 91.74C153.82 89.89 154.80 88.08 155.86 86.35C156.91 84.63 158.07 82.97 159.31 81.41C160.55 79.86 161.88 78.38 163.29 77.02C164.70 75.66 166.19 74.40 167.76 73.28C169.32 72.15 170.97 71.15 172.67 70.27C174.37 69.38 176.15 68.63 177.98 67.96C179.80 67.29 181.69 66.74 183.61 66.25C185.53 65.76 187.50 65.38 189.49 65.04C191.49 64.71 193.52 64.46 195.57 64.24C197.62 64.03 199.69 63.88 201.77 63.75C203.84 63.62 205.94 63.54 208.02 63.46C210.11 63.38 212.20 63.34 214.26 63.28C216.33 63.22 218.39 63.18 220.43 63.12C222.47 63.06 224.49 62.99 226.50 62.91C228.51 62.83 230.51 62.74 232.49 62.63C234.48 62.53 236.46 62.40 238.43 62.25C240.40 62.10 242.36 61.94 244.32 61.74C246.27 61.54 248.22 61.32 250.17 61.06C252.12 60.80 254.07 60.51 256.02 60.18C257.97 59.85 259.92 59.49 261.86 59.08C263.81 58.67 265.76 58.23 267.71 57.74C269.65 57.26 271.59 56.73 273.53 56.17C275.47 55.61 277.40 55.00 279.32 54.36C281.24 53.72 283.16 53.05 285.06 52.33C286.96 51.61 288.86 50.86 290.74 50.07C292.62 49.28 294.48 48.45 296.33 47.58C298.18 46.72 300.01 45.81 301.83 44.87C303.64 43.94 305.43 42.94 307.22 41.95C309.00 40.96 310.76 39.92 312.53 38.93C314.30 37.93 316.06 36.92 317.84 35.99C319.62 35.05 321.40 34.13 323.21 33.31C325.02 32.50 326.85 31.73 328.72 31.10C330.59 30.46 332.50 29.91 334.44 29.52C336.38 29.14 338.38 28.86 340.34 28.77C342.30 28.69 344.30 28.74 346.22 29.00C348.14 29.27 350.06 29.71 351.87 30.37C353.69 31.03 355.45 31.91 357.13 32.94C358.80 33.97 360.41 35.21 361.93 36.55C363.44 37.88 364.88 39.39 366.23 40.97C367.57 42.55 368.83 44.26 369.99 46.01C371.15 47.75 372.21 49.60 373.17 51.45C374.13 53.30 374.98 55.20 375.73 57.09C376.48 58.98 377.12 60.89 377.69 62.80C378.26 64.72 378.73 66.64 379.15 68.57C379.56 70.51 379.90 72.45 380.21 74.40C380.51 76.35 380.75 78.30 380.98 80.27C381.21 82.23 381.39 84.20 381.57 86.18C381.76 88.15 381.91 90.14 382.09 92.13C382.27 94.11 382.44 96.11 382.65 98.11C382.85 100.10 383.08 102.10 383.34 104.11C383.60 106.11 383.90 108.12 384.20 110.13C384.50 112.14 384.83 114.16 385.15 116.17C385.47 118.18 385.81 120.19 386.12 122.21C386.43 124.22 386.74 126.23 387.01 128.24C387.28 130.25 387.53 132.26 387.73 134.27C387.93 136.27 388.11 138.28 388.21 140.27C388.32 142.27 388.38 144.27 388.37 146.25C388.35 148.24 388.29 150.22 388.14 152.19C388.00 154.16 387.79 156.12 387.51 158.07C387.22 160.01 386.87 161.95 386.42 163.87C385.98 165.78 385.46 167.69 384.85 169.57C384.24 171.45 383.55 173.32 382.76 175.16C381.96 177.00 381.08 178.83 380.10 180.62C379.11 182.41 378.02 184.20 376.85 185.92C375.67 187.64 374.39 189.34 373.04 190.94C371.69 192.54 370.24 194.09 368.73 195.51C367.23 196.93 365.63 198.27 363.99 199.46C362.34 200.65 360.63 201.73 358.86 202.63C357.10 203.53 355.28 204.30 353.42 204.86C351.57 205.42 349.65 205.80 347.73 205.99C345.81 206.17 343.85 206.17 341.92 205.98C339.99 205.79 338.05 205.40 336.15 204.84C334.25 204.29 332.38 203.48 330.53 202.66C328.68 201.83 326.86 200.84 325.04 199.91C323.23 198.97 321.43 198.00 319.63 197.04C317.84 196.08 316.05 195.11 314.27 194.16C312.48 193.20 310.71 192.24 308.93 191.29C307.15 190.35 305.37 189.41 303.59 188.49C301.80 187.57 300.02 186.66 298.22 185.79C296.43 184.91 294.62 184.05 292.80 183.23C290.99 182.41 289.16 181.61 287.31 180.85C285.46 180.10 283.60 179.38 281.72 178.70C279.83 178.02 277.93 177.39 276.01 176.79C274.09 176.19 272.16 175.63 270.21 175.11C268.27 174.59 266.31 174.11 264.34 173.65C262.37 173.20 260.39 172.78 258.41 172.40C256.42 172.01 254.43 171.66 252.44 171.33C250.44 171.01 248.44 170.71 246.44 170.44C244.45 170.17 242.44 169.93 240.45 169.71C238.45 169.50 236.46 169.31 234.46 169.13C232.47 168.95 230.49 168.80 228.50 168.65C226.51 168.50 224.53 168.36 222.55 168.21C220.57 168.05 218.59 167.91 216.61 167.73C214.63 167.56 212.65 167.38 210.67 167.16C208.69 166.95 206.71 166.71 204.73 166.43C202.75 166.15 200.77 165.84 198.79 165.47C196.81 165.10 194.82 164.70 192.84 164.22C190.85 163.74 188.85 163.21 186.88 162.61C184.91 162.01 182.94 161.35 181.01 160.62C179.09 159.88 177.18 159.08 175.33 158.20C173.49 157.32 171.68 156.37 169.95 155.33C168.22 154.29 166.54 153.18 164.96 151.98C163.38 150.78 161.87 149.49 160.48 148.12C159.09 146.74 157.78 145.27 156.60 143.72C155.43 142.16 154.36 140.51 153.41 138.80C152.45 137.08 151.61 135.28 150.89 133.44C150.17 131.60 149.57 129.69 149.08 127.75C148.60 125.81 148.23 123.82 147.98 121.81C147.73 119.81 147.60 117.76 147.59 115.72Z" fill="#5f5fcd" stroke="#000" stroke-width="1.25" stroke-linejoin="round"/><path d="M172.16 119.05C172.17 116.98 172.39 114.83 172.78 112.78C173.16 110.72 173.75 108.64 174.49 106.70C175.24 104.76 176.16 102.86 177.23 101.16C178.31 99.46 179.55 97.85 180.93 96.48C182.30 95.12 183.85 93.95 185.49 92.97C187.12 92.00 188.91 91.25 190.75 90.65C192.58 90.06 194.54 89.66 196.51 89.40C198.48 89.14 200.54 89.06 202.57 89.10C204.61 89.14 206.69 89.33 208.73 89.63C210.77 89.92 212.80 90.36 214.80 90.85C216.80 91.34 218.76 91.96 220.72 92.56C222.68 93.17 224.62 93.86 226.55 94.50C228.49 95.14 230.41 95.81 232.35 96.39C234.28 96.96 236.21 97.53 238.15 97.95C240.10 98.38 242.05 98.75 244.02 98.94C245.99 99.12 248.00 99.19 249.99 99.08C251.98 98.98 254.00 98.71 255.96 98.30C257.92 97.89 259.88 97.33 261.76 96.62C263.63 95.90 265.47 95.03 267.21 94.03C268.95 93.04 270.60 91.85 272.22 90.64C273.84 89.43 275.38 88.08 276.95 86.78C278.51 85.47 280.04 84.11 281.60 82.81C283.17 81.51 284.73 80.22 286.32 78.98C287.92 77.73 289.52 76.52 291.14 75.35C292.77 74.17 294.41 73.03 296.08 71.94C297.75 70.84 299.44 69.79 301.16 68.78C302.88 67.78 304.63 66.82 306.40 65.92C308.18 65.02 309.98 64.16 311.83 63.37C313.68 62.59 315.56 61.86 317.50 61.22C319.44 60.58 321.44 60.01 323.47 59.55C325.50 59.10 327.60 58.71 329.67 58.50C331.73 58.28 333.84 58.16 335.87 58.24C337.90 58.32 339.93 58.53 341.84 58.96C343.76 59.40 345.64 60.01 347.38 60.86C349.11 61.71 350.76 62.80 352.25 64.05C353.74 65.30 355.11 66.78 356.31 68.35C357.51 69.93 358.56 71.68 359.44 73.48C360.33 75.28 360.99 77.21 361.62 79.15C362.25 81.09 362.71 83.10 363.19 85.09C363.68 87.08 364.11 89.09 364.54 91.09C364.97 93.09 365.37 95.09 365.76 97.08C366.16 99.08 366.54 101.07 366.91 103.06C367.29 105.05 367.66 107.03 368.03 109.01C368.40 110.99 368.77 112.96 369.15 114.93C369.53 116.89 369.92 118.85 370.32 120.80C370.72 122.75 371.16 124.69 371.56 126.63C371.96 128.58 372.38 130.51 372.73 132.48C373.08 134.44 373.41 136.40 373.65 138.40C373.88 140.39 374.07 142.41 374.13 144.47C374.19 146.52 374.17 148.64 374.01 150.72C373.84 152.80 373.58 154.92 373.15 156.96C372.73 158.99 372.18 161.02 371.46 162.91C370.74 164.81 369.88 166.66 368.83 168.33C367.78 170.00 366.55 171.56 365.17 172.94C363.79 174.33 362.21 175.56 360.56 176.64C358.91 177.72 357.10 178.64 355.25 179.41C353.41 180.17 351.45 180.79 349.50 181.24C347.55 181.70 345.53 182.00 343.55 182.15C341.58 182.30 339.60 182.28 337.64 182.14C335.68 182.00 333.74 181.70 331.80 181.31C329.87 180.93 327.95 180.41 326.04 179.82C324.13 179.24 322.23 178.55 320.34 177.81C318.44 177.08 316.56 176.26 314.68 175.43C312.79 174.60 310.92 173.71 309.05 172.82C307.17 171.94 305.30 171.02 303.43 170.13C301.56 169.24 299.70 168.36 297.83 167.49C295.96 166.62 294.09 165.76 292.22 164.92C290.35 164.09 288.48 163.26 286.61 162.47C284.74 161.67 282.87 160.90 280.99 160.15C279.11 159.40 277.23 158.68 275.35 157.99C273.47 157.29 271.58 156.63 269.69 156.01C267.80 155.38 265.91 154.79 264.00 154.23C262.10 153.68 260.20 153.17 258.29 152.70C256.37 152.23 254.45 151.80 252.53 151.41C250.60 151.02 248.67 150.67 246.72 150.35C244.78 150.04 242.82 149.76 240.85 149.51C238.89 149.26 236.91 149.05 234.91 148.86C232.92 148.66 230.92 148.50 228.89 148.36C226.87 148.22 224.83 148.11 222.78 148.01C220.72 147.91 218.64 147.84 216.55 147.77C214.46 147.70 212.34 147.68 210.24 147.60C208.13 147.52 206.01 147.46 203.94 147.30C201.86 147.15 199.79 146.97 197.79 146.66C195.80 146.35 193.83 145.98 191.96 145.44C190.09 144.90 188.27 144.27 186.57 143.42C184.87 142.58 183.24 141.59 181.77 140.38C180.29 139.17 178.91 137.73 177.72 136.17C176.53 134.61 175.46 132.85 174.63 131.02C173.80 129.19 173.15 127.21 172.74 125.22C172.33 123.23 172.16 121.13 172.16 119.05Z" fill="#8080fe" stroke="#000" stroke-width="1.25" stroke-linejoin="round"/><path d="M297.60 124.09C298.60 122.30 299.73 120.56 300.91 118.86C302.08 117.16 303.33 115.51 304.65 113.90C305.96 112.30 307.35 110.75 308.82 109.24C310.28 107.74 311.82 106.25 313.43 104.87C315.04 103.48 316.74 102.00 318.49 100.93C320.23 99.87 322.07 98.90 323.91 98.45C325.76 98.00 327.69 97.98 329.56 98.24C331.42 98.50 333.32 99.16 335.10 99.99C336.87 100.83 338.63 101.99 340.20 103.26C341.77 104.53 343.23 106.04 344.54 107.60C345.84 109.17 346.97 110.89 348.03 112.66C349.09 114.43 350.01 116.31 350.90 118.19C351.79 120.08 352.57 122.04 353.36 123.97C354.15 125.90 354.93 127.84 355.64 129.76C356.36 131.69 357.08 133.59 357.64 135.53C358.20 137.47 358.72 139.40 359.00 141.40C359.28 143.39 359.46 145.46 359.34 147.49C359.21 149.53 358.91 151.68 358.26 153.60C357.60 155.53 356.60 157.43 355.40 159.04C354.19 160.65 352.61 162.11 351.02 163.25C349.42 164.39 347.64 165.25 345.83 165.87C344.02 166.49 342.11 166.81 340.17 166.97C338.22 167.12 336.20 167.03 334.17 166.82C332.14 166.61 330.06 166.19 328.00 165.71C325.93 165.23 323.83 164.60 321.78 163.93C319.73 163.25 317.66 162.51 315.69 161.67C313.71 160.83 311.76 159.92 309.93 158.90C308.10 157.88 306.33 156.78 304.73 155.56C303.12 154.34 301.60 153.02 300.29 151.58C298.98 150.14 297.79 148.58 296.84 146.90C295.89 145.21 295.10 143.35 294.60 141.46C294.10 139.56 293.79 137.50 293.85 135.53C293.90 133.56 294.29 131.54 294.92 129.63C295.54 127.73 296.60 125.89 297.60 124.09Z" fill="#b2b2fd" stroke="#000" stroke-width="1.25" stroke-linejoin="round"/>
</g>
<use href="#star" x="331.40" y="808.73"/>
</g>
<g clip-path="url(#cb3)">
<path d="M297.40 803.10C303.07 803.98 321.30 806.50 331.40 808.40C341.50 810.30 350.47 812.37 358.00 814.50C365.53 816.63 372.17 818.88 376.60 821.20C381.03 823.52 383.72 826.42 384.60 828.40C385.48 830.38 384.12 831.33 381.90 833.10C379.68 834.87 376.17 837.00 371.30 839.00C366.43 841.00 359.78 843.27 352.70 845.10C345.62 846.93 338.02 848.58 328.80 850.00C319.58 851.42 302.63 853.00 297.40 853.60Z" fill="rgba(255,100,100,0.37)" stroke="none"/>
<path d="M297.40 803.10C303.07 803.98 321.30 806.50 331.40 808.40C341.50 810.30 350.47 812.37 358.00 814.50C365.53 816.63 372.17 818.88 376.60 821.20C381.03 823.52 383.72 826.42 384.60 828.40C385.48 830.38 384.12 831.33 381.90 833.10C379.68 834.87 376.17 837.00 371.30 839.00C366.43 841.00 359.78 843.27 352.70 845.10C345.62 846.93 338.02 848.58 328.80 850.00C319.58 851.42 302.63 853.00 297.40 853.60Z" fill="none" stroke="#b00510" stroke-width="1.10"/>
<path d="M192.00 795.10C201.07 795.68 228.83 797.27 246.40 798.60C263.97 799.93 288.90 802.35 297.40 803.10" fill="none" stroke="#b00510" stroke-width="1.10" stroke-dasharray="5 3.2"/>
<path d="M195.90 861.00C204.32 860.53 229.48 859.43 246.40 858.20C263.32 856.97 288.90 854.37 297.40 853.60" fill="none" stroke="#b00510" stroke-width="1.10" stroke-dasharray="5 3.2"/>
</g>
<g clip-path="url(#cl3)">
<path d="M245.55 671.54 V884.49" stroke="#666" stroke-width="0.95" stroke-dasharray="11.1 4.4" stroke-dashoffset="2.10" fill="none"/>
<path d="M74.00 828.36 H417.50" stroke="#666" stroke-width="0.95" stroke-dasharray="11.1 4.4" stroke-dashoffset="6.60" fill="none"/>
</g>
<g clip-path="url(#cr3)">
<path d="M659.90 827.54C659.77 825.53 659.79 823.59 659.91 821.57C660.03 819.55 660.17 817.42 660.63 815.41C661.09 813.39 661.67 811.20 662.67 809.48C663.67 807.76 665.09 806.11 666.64 805.06C668.18 804.02 670.05 803.52 671.95 803.22C673.85 802.92 675.96 803.10 678.04 803.26C680.11 803.43 682.29 803.87 684.38 804.20C686.47 804.54 688.54 804.91 690.58 805.28C692.61 805.64 694.61 806.01 696.60 806.40C698.58 806.79 700.54 807.18 702.49 807.61C704.44 808.04 706.37 808.49 708.30 808.97C710.22 809.46 712.14 809.97 714.06 810.52C715.99 811.08 717.90 811.67 719.84 812.31C721.77 812.95 723.73 813.60 725.66 814.38C727.58 815.15 729.60 815.90 731.39 816.95C733.17 818.01 735.06 819.23 736.38 820.71C737.70 822.20 738.95 824.06 739.31 825.86C739.68 827.67 739.35 829.80 738.57 831.55C737.79 833.29 736.17 834.98 734.64 836.36C733.12 837.73 731.23 838.84 729.43 839.82C727.62 840.79 725.71 841.51 723.81 842.23C721.91 842.96 719.97 843.57 718.03 844.18C716.09 844.78 714.14 845.34 712.18 845.85C710.23 846.37 708.26 846.84 706.28 847.28C704.30 847.72 702.32 848.11 700.32 848.47C698.33 848.84 696.33 849.17 694.33 849.46C692.32 849.76 690.32 850.04 688.29 850.24C686.26 850.44 684.21 850.63 682.15 850.66C680.08 850.70 677.89 850.77 675.90 850.45C673.90 850.12 671.87 849.65 670.17 848.70C668.46 847.76 666.92 846.31 665.65 844.78C664.37 843.25 663.35 841.38 662.53 839.51C661.70 837.65 661.13 835.61 660.69 833.62C660.25 831.62 660.03 829.55 659.90 827.54Z" fill="#5f5fcd" stroke="#000" stroke-width="1.25" stroke-linejoin="round"/>
<path d="M661.52 827.56C661.14 825.63 661.36 823.63 661.55 821.62C661.74 819.62 662.08 817.46 662.67 815.50C663.27 813.55 663.97 811.44 665.12 809.90C666.26 808.36 667.86 807.04 669.54 806.25C671.22 805.46 673.22 805.25 675.21 805.17C677.19 805.09 679.38 805.45 681.46 805.76C683.54 806.07 685.66 806.58 687.67 807.01C689.69 807.45 691.63 807.91 693.56 808.37C695.50 808.84 697.37 809.32 699.27 809.81C701.16 810.31 703.03 810.82 704.94 811.34C706.86 811.87 708.80 812.38 710.76 812.98C712.72 813.58 714.79 814.09 716.70 814.93C718.60 815.76 720.77 816.70 722.19 818.01C723.62 819.31 724.94 821.02 725.23 822.74C725.52 824.46 724.84 826.66 723.92 828.33C723.01 830.00 721.33 831.54 719.72 832.78C718.10 834.03 716.09 834.93 714.24 835.82C712.39 836.72 710.50 837.46 708.62 838.14C706.74 838.82 704.86 839.39 702.95 839.89C701.03 840.39 699.11 840.80 697.14 841.15C695.17 841.51 693.16 841.80 691.13 842.01C689.09 842.22 686.99 842.40 684.94 842.41C682.89 842.42 680.80 842.36 678.82 842.06C676.85 841.76 674.88 841.34 673.07 840.62C671.26 839.90 669.50 838.98 667.96 837.74C666.42 836.50 664.91 834.89 663.84 833.19C662.77 831.50 661.90 829.49 661.52 827.56Z" fill="#8080fe" stroke="#000" stroke-width="1.25" stroke-linejoin="round"/>
<path d="M664.41 822.76C664.17 820.66 664.20 818.22 664.75 816.32C665.30 814.41 666.26 812.50 667.72 811.32C669.17 810.13 671.47 809.48 673.47 809.21C675.47 808.95 677.66 809.41 679.71 809.75C681.75 810.10 683.75 810.78 685.76 811.28C687.76 811.78 689.77 812.20 691.74 812.75C693.72 813.30 695.68 813.83 697.61 814.60C699.54 815.38 701.67 816.20 703.32 817.40C704.97 818.60 707.09 820.16 707.50 821.80C707.92 823.43 706.99 825.73 705.81 827.20C704.62 828.67 702.26 829.62 700.37 830.59C698.48 831.56 696.44 832.36 694.47 833.05C692.50 833.74 690.56 834.32 688.57 834.73C686.57 835.13 684.56 835.41 682.50 835.47C680.44 835.53 678.22 835.48 676.19 835.09C674.16 834.70 672.01 834.16 670.35 833.13C668.69 832.10 667.21 830.64 666.22 828.92C665.24 827.19 664.66 824.86 664.41 822.76Z" fill="#b2b2fd" stroke="#000" stroke-width="1.25" stroke-linejoin="round"/>
<path d="M609.44 671.54 V884.49" stroke="#666" stroke-width="0.95" stroke-dasharray="11.1 4.4" stroke-dashoffset="2.10" fill="none"/>
<path d="M437.50 828.36 H781.50" stroke="#666" stroke-width="0.95" stroke-dasharray="11.1 4.4" stroke-dashoffset="6.60" fill="none"/>
<use href="#star" x="675.20" y="821.70"/>
</g>
<path d="M84.55 671.54 v6.30 M84.55 884.49 v-6.30M95.28 671.54 v3.40 M95.28 884.49 v-3.40M106.02 671.54 v3.40 M106.02 884.49 v-3.40M116.75 671.54 v3.40 M116.75 884.49 v-3.40M127.48 671.54 v3.40 M127.48 884.49 v-3.40M138.22 671.54 v6.30 M138.22 884.49 v-6.30M148.95 671.54 v3.40 M148.95 884.49 v-3.40M159.68 671.54 v3.40 M159.68 884.49 v-3.40M170.41 671.54 v3.40 M170.41 884.49 v-3.40M181.15 671.54 v3.40 M181.15 884.49 v-3.40M191.88 671.54 v6.30 M191.88 884.49 v-6.30M202.61 671.54 v3.40 M202.61 884.49 v-3.40M213.35 671.54 v3.40 M213.35 884.49 v-3.40M224.08 671.54 v3.40 M224.08 884.49 v-3.40M234.81 671.54 v3.40 M234.81 884.49 v-3.40M245.55 671.54 v6.30 M245.55 884.49 v-6.30M256.28 671.54 v3.40 M256.28 884.49 v-3.40M267.01 671.54 v3.40 M267.01 884.49 v-3.40M277.74 671.54 v3.40 M277.74 884.49 v-3.40M288.48 671.54 v3.40 M288.48 884.49 v-3.40M299.21 671.54 v6.30 M299.21 884.49 v-6.30M309.94 671.54 v3.40 M309.94 884.49 v-3.40M320.68 671.54 v3.40 M320.68 884.49 v-3.40M331.41 671.54 v3.40 M331.41 884.49 v-3.40M342.14 671.54 v3.40 M342.14 884.49 v-3.40M352.88 671.54 v6.30 M352.88 884.49 v-6.30M363.61 671.54 v3.40 M363.61 884.49 v-3.40M374.34 671.54 v3.40 M374.34 884.49 v-3.40M385.07 671.54 v3.40 M385.07 884.49 v-3.40M395.81 671.54 v3.40 M395.81 884.49 v-3.40M406.54 671.54 v6.30 M406.54 884.49 v-6.30M417.27 671.54 v3.40 M417.27 884.49 v-3.40M74.00 884.22 h3.40 M417.50 884.22 h-3.40M74.00 878.64 h6.30 M417.50 878.64 h-6.30M74.00 873.05 h3.40 M417.50 873.05 h-3.40M74.00 867.46 h3.40 M417.50 867.46 h-3.40M74.00 861.88 h3.40 M417.50 861.88 h-3.40M74.00 856.29 h3.40 M417.50 856.29 h-3.40M74.00 850.71 h3.40 M417.50 850.71 h-3.40M74.00 845.12 h3.40 M417.50 845.12 h-3.40M74.00 839.53 h3.40 M417.50 839.53 h-3.40M74.00 833.95 h3.40 M417.50 833.95 h-3.40M74.00 828.36 h6.30 M417.50 828.36 h-6.30M74.00 822.78 h3.40 M417.50 822.78 h-3.40M74.00 817.19 h3.40 M417.50 817.19 h-3.40M74.00 811.60 h3.40 M417.50 811.60 h-3.40M74.00 806.02 h3.40 M417.50 806.02 h-3.40M74.00 800.43 h3.40 M417.50 800.43 h-3.40M74.00 794.85 h3.40 M417.50 794.85 h-3.40M74.00 789.26 h3.40 M417.50 789.26 h-3.40M74.00 783.67 h3.40 M417.50 783.67 h-3.40M74.00 778.09 h6.30 M417.50 778.09 h-6.30M74.00 772.50 h3.40 M417.50 772.50 h-3.40M74.00 766.92 h3.40 M417.50 766.92 h-3.40M74.00 761.33 h3.40 M417.50 761.33 h-3.40M74.00 755.74 h3.40 M417.50 755.74 h-3.40M74.00 750.16 h3.40 M417.50 750.16 h-3.40M74.00 744.57 h3.40 M417.50 744.57 h-3.40M74.00 738.99 h3.40 M417.50 738.99 h-3.40M74.00 733.40 h3.40 M417.50 733.40 h-3.40M74.00 727.81 h6.30 M417.50 727.81 h-6.30M74.00 722.23 h3.40 M417.50 722.23 h-3.40M74.00 716.64 h3.40 M417.50 716.64 h-3.40M74.00 711.06 h3.40 M417.50 711.06 h-3.40M74.00 705.47 h3.40 M417.50 705.47 h-3.40M74.00 699.88 h3.40 M417.50 699.88 h-3.40M74.00 694.30 h3.40 M417.50 694.30 h-3.40M74.00 688.71 h3.40 M417.50 688.71 h-3.40M74.00 683.13 h3.40 M417.50 683.13 h-3.40M74.00 677.54 h6.30 M417.50 677.54 h-6.30M74.00 671.95 h3.40 M417.50 671.95 h-3.40" stroke="#606060" stroke-width="0.60" fill="none"/>
<rect x="74.00" y="671.54" width="343.50" height="212.95" fill="none" stroke="#8a8a8a" stroke-width="0.75"/>
<path d="M437.72 671.54 v3.40 M437.72 884.49 v-3.40M448.45 671.54 v6.30 M448.45 884.49 v-6.30M459.18 671.54 v3.40 M459.18 884.49 v-3.40M469.92 671.54 v3.40 M469.92 884.49 v-3.40M480.65 671.54 v3.40 M480.65 884.49 v-3.40M491.38 671.54 v3.40 M491.38 884.49 v-3.40M502.12 671.54 v6.30 M502.12 884.49 v-6.30M512.85 671.54 v3.40 M512.85 884.49 v-3.40M523.58 671.54 v3.40 M523.58 884.49 v-3.40M534.31 671.54 v3.40 M534.31 884.49 v-3.40M545.05 671.54 v3.40 M545.05 884.49 v-3.40M555.78 671.54 v6.30 M555.78 884.49 v-6.30M566.51 671.54 v3.40 M566.51 884.49 v-3.40M577.25 671.54 v3.40 M577.25 884.49 v-3.40M587.98 671.54 v3.40 M587.98 884.49 v-3.40M598.71 671.54 v3.40 M598.71 884.49 v-3.40M609.44 671.54 v6.30 M609.44 884.49 v-6.30M620.18 671.54 v3.40 M620.18 884.49 v-3.40M630.91 671.54 v3.40 M630.91 884.49 v-3.40M641.64 671.54 v3.40 M641.64 884.49 v-3.40M652.38 671.54 v3.40 M652.38 884.49 v-3.40M663.11 671.54 v6.30 M663.11 884.49 v-6.30M673.84 671.54 v3.40 M673.84 884.49 v-3.40M684.58 671.54 v3.40 M684.58 884.49 v-3.40M695.31 671.54 v3.40 M695.31 884.49 v-3.40M706.04 671.54 v3.40 M706.04 884.49 v-3.40M716.77 671.54 v6.30 M716.77 884.49 v-6.30M727.51 671.54 v3.40 M727.51 884.49 v-3.40M738.24 671.54 v3.40 M738.24 884.49 v-3.40M748.97 671.54 v3.40 M748.97 884.49 v-3.40M759.71 671.54 v3.40 M759.71 884.49 v-3.40M770.44 671.54 v6.30 M770.44 884.49 v-6.30M781.17 671.54 v3.40 M781.17 884.49 v-3.40M437.50 884.22 h3.40 M781.50 884.22 h-3.40M437.50 878.64 h6.30 M781.50 878.64 h-6.30M437.50 873.05 h3.40 M781.50 873.05 h-3.40M437.50 867.46 h3.40 M781.50 867.46 h-3.40M437.50 861.88 h3.40 M781.50 861.88 h-3.40M437.50 856.29 h3.40 M781.50 856.29 h-3.40M437.50 850.71 h3.40 M781.50 850.71 h-3.40M437.50 845.12 h3.40 M781.50 845.12 h-3.40M437.50 839.53 h3.40 M781.50 839.53 h-3.40M437.50 833.95 h3.40 M781.50 833.95 h-3.40M437.50 828.36 h6.30 M781.50 828.36 h-6.30M437.50 822.78 h3.40 M781.50 822.78 h-3.40M437.50 817.19 h3.40 M781.50 817.19 h-3.40M437.50 811.60 h3.40 M781.50 811.60 h-3.40M437.50 806.02 h3.40 M781.50 806.02 h-3.40M437.50 800.43 h3.40 M781.50 800.43 h-3.40M437.50 794.85 h3.40 M781.50 794.85 h-3.40M437.50 789.26 h3.40 M781.50 789.26 h-3.40M437.50 783.67 h3.40 M781.50 783.67 h-3.40M437.50 778.09 h6.30 M781.50 778.09 h-6.30M437.50 772.50 h3.40 M781.50 772.50 h-3.40M437.50 766.92 h3.40 M781.50 766.92 h-3.40M437.50 761.33 h3.40 M781.50 761.33 h-3.40M437.50 755.74 h3.40 M781.50 755.74 h-3.40M437.50 750.16 h3.40 M781.50 750.16 h-3.40M437.50 744.57 h3.40 M781.50 744.57 h-3.40M437.50 738.99 h3.40 M781.50 738.99 h-3.40M437.50 733.40 h3.40 M781.50 733.40 h-3.40M437.50 727.81 h6.30 M781.50 727.81 h-6.30M437.50 722.23 h3.40 M781.50 722.23 h-3.40M437.50 716.64 h3.40 M781.50 716.64 h-3.40M437.50 711.06 h3.40 M781.50 711.06 h-3.40M437.50 705.47 h3.40 M781.50 705.47 h-3.40M437.50 699.88 h3.40 M781.50 699.88 h-3.40M437.50 694.30 h3.40 M781.50 694.30 h-3.40M437.50 688.71 h3.40 M781.50 688.71 h-3.40M437.50 683.13 h3.40 M781.50 683.13 h-3.40M437.50 677.54 h6.30 M781.50 677.54 h-6.30M437.50 671.95 h3.40 M781.50 671.95 h-3.40" stroke="#606060" stroke-width="0.60" fill="none"/>
<rect x="437.50" y="671.54" width="344.00" height="212.95" fill="none" stroke="#8a8a8a" stroke-width="0.75"/>
<g filter="url(#gs)">
<text transform="translate(71.00 16.45) rotate(0.03) scale(1 1.035)" font-size="17.40" text-anchor="end" stroke="#000" stroke-width="0.30">90</text>
<text transform="translate(784.30 16.45) rotate(0.03) scale(1 1.035)" font-size="17.40" text-anchor="start" stroke="#000" stroke-width="0.30">90</text>
<text transform="translate(71.00 66.72) rotate(0.03) scale(1 1.035)" font-size="17.40" text-anchor="end" stroke="#000" stroke-width="0.30">0</text>
<text transform="translate(784.30 66.72) rotate(0.03) scale(1 1.035)" font-size="17.40" text-anchor="start" stroke="#000" stroke-width="0.30">0</text>
<text transform="translate(71.00 117.00) rotate(0.03) scale(1 1.035)" font-size="17.40" text-anchor="end" stroke="#000" stroke-width="0.30"><tspan dy="2.1">−</tspan><tspan dy="-2.1" dx="0.9">90</tspan></text>
<text transform="translate(784.30 117.00) rotate(0.03) scale(1 1.035)" font-size="17.40" text-anchor="start" stroke="#000" stroke-width="0.30"><tspan dy="2.1">−</tspan><tspan dy="-2.1" dx="0.9">90</tspan></text>
<text transform="translate(71.00 167.27) rotate(0.03) scale(1 1.035)" font-size="17.40" text-anchor="end" stroke="#000" stroke-width="0.30">±<tspan dx="1.3">180</tspan></text>
<text transform="translate(784.30 167.27) rotate(0.03) scale(1 1.035)" font-size="17.40" text-anchor="start" stroke="#000" stroke-width="0.30">±<tspan dx="1.3">180</tspan></text>
<text transform="translate(71.00 217.55) rotate(0.03) scale(1 1.035)" font-size="17.40" text-anchor="end" stroke="#000" stroke-width="0.30">90</text>
<text transform="translate(784.30 217.55) rotate(0.03) scale(1 1.035)" font-size="17.40" text-anchor="start" stroke="#000" stroke-width="0.30">90</text>
<text transform="translate(22.00 111.52) rotate(-90)" font-size="17.1" text-anchor="middle" textLength="76" lengthAdjust="spacingAndGlyphs" stroke="#000" stroke-width="0.28"><tspan font-style="italic">δ</tspan> [degree]</text>
<g font-size="14.0" stroke="#000" stroke-width="0.22"><path d="M96.30 14.05 Q91.44 22.35 96.30 30.65 L96.80 30.65 Q94.56 22.35 96.80 14.05 Z" fill="#000"/><text x="97.60" y="25.75" font-style="italic" font-size="14.8">M</text><text x="109.50" y="28.45" font-style="italic" font-size="10.5">ν</text><text x="111.60" y="21.45" font-size="9.3">−1</text><path d="M124.10 14.05 Q128.96 22.35 124.10 30.65 L123.60 30.65 Q125.84 22.35 123.60 14.05 Z" fill="#000"/><text x="128.60" y="30.35" font-style="italic" font-size="10.5">ττ</text><path d="M140.40 20.50h6.6M140.40 24.10h6.6" stroke="#000" stroke-width="1.15" fill="none"/><text x="151.10" y="25.85">0</text><text x="96.00" y="42.95" font-style="italic">A</text><text x="105.00" y="44.55" font-style="italic" font-size="10.5">eμ</text><path d="M119.80 37.60h6.6M119.80 41.20h6.6" stroke="#000" stroke-width="1.15" fill="none"/><text x="131.00" y="42.95">1/2</text></g>
<text transform="translate(71.00 238.48) rotate(0.03) scale(1 1.035)" font-size="17.40" text-anchor="end" stroke="#000" stroke-width="0.30">90</text>
<text transform="translate(784.30 238.48) rotate(0.03) scale(1 1.035)" font-size="17.40" text-anchor="start" stroke="#000" stroke-width="0.30">90</text>
<text transform="translate(71.00 288.75) rotate(0.03) scale(1 1.035)" font-size="17.40" text-anchor="end" stroke="#000" stroke-width="0.30">0</text>
<text transform="translate(784.30 288.75) rotate(0.03) scale(1 1.035)" font-size="17.40" text-anchor="start" stroke="#000" stroke-width="0.30">0</text>
<text transform="translate(71.00 339.03) rotate(0.03) scale(1 1.035)" font-size="17.40" text-anchor="end" stroke="#000" stroke-width="0.30"><tspan dy="2.1">−</tspan><tspan dy="-2.1" dx="0.9">90</tspan></text>
<text transform="translate(784.30 339.03) rotate(0.03) scale(1 1.035)" font-size="17.40" text-anchor="start" stroke="#000" stroke-width="0.30"><tspan dy="2.1">−</tspan><tspan dy="-2.1" dx="0.9">90</tspan></text>
<text transform="translate(71.00 389.30) rotate(0.03) scale(1 1.035)" font-size="17.40" text-anchor="end" stroke="#000" stroke-width="0.30">±<tspan dx="1.3">180</tspan></text>
<text transform="translate(784.30 389.30) rotate(0.03) scale(1 1.035)" font-size="17.40" text-anchor="start" stroke="#000" stroke-width="0.30">±<tspan dx="1.3">180</tspan></text>
<text transform="translate(71.00 439.58) rotate(0.03) scale(1 1.035)" font-size="17.40" text-anchor="end" stroke="#000" stroke-width="0.30">90</text>
<text transform="translate(784.30 439.58) rotate(0.03) scale(1 1.035)" font-size="17.40" text-anchor="start" stroke="#000" stroke-width="0.30">90</text>
<text transform="translate(22.00 333.56) rotate(-90)" font-size="17.1" text-anchor="middle" textLength="76" lengthAdjust="spacingAndGlyphs" stroke="#000" stroke-width="0.28"><tspan font-style="italic">δ</tspan> [degree]</text>
<g font-size="14.0" stroke="#000" stroke-width="0.22"><path d="M94.60 236.08 Q89.74 244.38 94.60 252.68 L95.10 252.68 Q92.86 244.38 95.10 236.08 Z" fill="#000"/><text x="95.90" y="247.78" font-style="italic" font-size="14.8">M</text><text x="107.80" y="250.48" font-style="italic" font-size="10.5">ν</text><text x="109.90" y="243.48" font-size="9.3">−1</text><path d="M122.40 236.08 Q127.26 244.38 122.40 252.68 L121.90 252.68 Q124.14 244.38 121.90 236.08 Z" fill="#000"/><text x="126.40" y="252.38" font-style="italic" font-size="10.5">μμ</text><path d="M142.10 242.53h6.6M142.10 246.13h6.6" stroke="#000" stroke-width="1.15" fill="none"/><text x="152.80" y="247.88">0</text><text x="95.50" y="264.98" font-style="italic">A</text><text x="104.20" y="266.58" font-style="italic" font-size="10.5">eτ</text><path d="M117.60 259.63h6.6M117.60 263.23h6.6" stroke="#000" stroke-width="1.15" fill="none"/><text x="130.00" y="264.98">1/2</text></g>
<text transform="translate(71.00 460.51) rotate(0.03) scale(1 1.035)" font-size="17.40" text-anchor="end" stroke="#000" stroke-width="0.30">90</text>
<text transform="translate(784.30 460.51) rotate(0.03) scale(1 1.035)" font-size="17.40" text-anchor="start" stroke="#000" stroke-width="0.30">90</text>
<text transform="translate(71.00 510.78) rotate(0.03) scale(1 1.035)" font-size="17.40" text-anchor="end" stroke="#000" stroke-width="0.30">0</text>
<text transform="translate(784.30 510.78) rotate(0.03) scale(1 1.035)" font-size="17.40" text-anchor="start" stroke="#000" stroke-width="0.30">0</text>
<text transform="translate(71.00 561.06) rotate(0.03) scale(1 1.035)" font-size="17.40" text-anchor="end" stroke="#000" stroke-width="0.30"><tspan dy="2.1">−</tspan><tspan dy="-2.1" dx="0.9">90</tspan></text>
<text transform="translate(784.30 561.06) rotate(0.03) scale(1 1.035)" font-size="17.40" text-anchor="start" stroke="#000" stroke-width="0.30"><tspan dy="2.1">−</tspan><tspan dy="-2.1" dx="0.9">90</tspan></text>
<text transform="translate(71.00 611.33) rotate(0.03) scale(1 1.035)" font-size="17.40" text-anchor="end" stroke="#000" stroke-width="0.30">±<tspan dx="1.3">180</tspan></text>
<text transform="translate(784.30 611.33) rotate(0.03) scale(1 1.035)" font-size="17.40" text-anchor="start" stroke="#000" stroke-width="0.30">±<tspan dx="1.3">180</tspan></text>
<text transform="translate(71.00 661.61) rotate(0.03) scale(1 1.035)" font-size="17.40" text-anchor="end" stroke="#000" stroke-width="0.30">90</text>
<text transform="translate(784.30 661.61) rotate(0.03) scale(1 1.035)" font-size="17.40" text-anchor="start" stroke="#000" stroke-width="0.30">90</text>
<text transform="translate(22.00 555.59) rotate(-90)" font-size="17.1" text-anchor="middle" textLength="76" lengthAdjust="spacingAndGlyphs" stroke="#000" stroke-width="0.28"><tspan font-style="italic">δ</tspan> [degree]</text>
<g font-size="14.0" stroke="#000" stroke-width="0.22"><path d="M95.90 458.51 Q91.04 466.81 95.90 475.11 L96.40 475.11 Q94.16 466.81 96.40 458.51 Z" fill="#000"/><text x="97.20" y="470.21" font-style="italic" font-size="14.8">M</text><text x="109.10" y="472.91" font-style="italic" font-size="10.5">ν</text><text x="111.20" y="465.91" font-size="9.3">−1</text><path d="M123.70 458.51 Q128.56 466.81 123.70 475.11 L123.20 475.11 Q125.44 466.81 123.20 458.51 Z" fill="#000"/><text x="128.60" y="474.81" font-style="italic" font-size="10.5">eμ</text><path d="M143.70 464.96h6.6M143.70 468.56h6.6" stroke="#000" stroke-width="1.15" fill="none"/><text x="154.40" y="470.31">0</text><text x="94.40" y="487.41" font-style="italic">A</text><text x="103.00" y="489.01" font-style="italic" font-size="10.5">ττ</text><path d="M114.30 482.06h6.6M114.30 485.66h6.6" stroke="#000" stroke-width="1.15" fill="none"/><text x="125.60" y="487.41">1</text></g>
<text transform="translate(71.00 682.54) rotate(0.03) scale(1 1.035)" font-size="17.40" text-anchor="end" stroke="#000" stroke-width="0.30">90</text>
<text transform="translate(784.30 682.54) rotate(0.03) scale(1 1.035)" font-size="17.40" text-anchor="start" stroke="#000" stroke-width="0.30">90</text>
<text transform="translate(71.00 732.81) rotate(0.03) scale(1 1.035)" font-size="17.40" text-anchor="end" stroke="#000" stroke-width="0.30">0</text>
<text transform="translate(784.30 732.81) rotate(0.03) scale(1 1.035)" font-size="17.40" text-anchor="start" stroke="#000" stroke-width="0.30">0</text>
<text transform="translate(71.00 783.09) rotate(0.03) scale(1 1.035)" font-size="17.40" text-anchor="end" stroke="#000" stroke-width="0.30"><tspan dy="2.1">−</tspan><tspan dy="-2.1" dx="0.9">90</tspan></text>
<text transform="translate(784.30 783.09) rotate(0.03) scale(1 1.035)" font-size="17.40" text-anchor="start" stroke="#000" stroke-width="0.30"><tspan dy="2.1">−</tspan><tspan dy="-2.1" dx="0.9">90</tspan></text>
<text transform="translate(71.00 833.36) rotate(0.03) scale(1 1.035)" font-size="17.40" text-anchor="end" stroke="#000" stroke-width="0.30">±<tspan dx="1.3">180</tspan></text>
<text transform="translate(784.30 833.36) rotate(0.03) scale(1 1.035)" font-size="17.40" text-anchor="start" stroke="#000" stroke-width="0.30">±<tspan dx="1.3">180</tspan></text>
<text transform="translate(71.00 883.64) rotate(0.03) scale(1 1.035)" font-size="17.40" text-anchor="end" stroke="#000" stroke-width="0.30">90</text>
<text transform="translate(784.30 883.64) rotate(0.03) scale(1 1.035)" font-size="17.40" text-anchor="start" stroke="#000" stroke-width="0.30">90</text>
<text transform="translate(22.00 777.62) rotate(-90)" font-size="17.1" text-anchor="middle" textLength="76" lengthAdjust="spacingAndGlyphs" stroke="#000" stroke-width="0.28"><tspan font-style="italic">δ</tspan> [degree]</text>
<g font-size="14.0" stroke="#000" stroke-width="0.22"><path d="M94.60 680.34 Q89.74 688.64 94.60 696.94 L95.10 696.94 Q92.86 688.64 95.10 680.34 Z" fill="#000"/><text x="95.90" y="692.04" font-style="italic" font-size="14.8">M</text><text x="107.80" y="694.74" font-style="italic" font-size="10.5">ν</text><text x="109.90" y="687.74" font-size="9.3">−1</text><path d="M122.40 680.34 Q127.26 688.64 122.40 696.94 L121.90 696.94 Q124.14 688.64 121.90 680.34 Z" fill="#000"/><text x="126.40" y="696.64" font-style="italic" font-size="10.5">μμ</text><path d="M142.10 686.79h6.6M142.10 690.39h6.6" stroke="#000" stroke-width="1.15" fill="none"/><text x="152.80" y="692.14">0</text><text x="94.40" y="709.24" font-style="italic">A</text><text x="102.70" y="710.84" font-style="italic" font-size="10.5">ee</text><path d="M117.10 703.89h6.6M117.10 707.49h6.6" stroke="#000" stroke-width="1.15" fill="none"/><text x="128.10" y="709.24" font-style="italic">A</text><text x="136.80" y="710.84" font-style="italic" font-size="10.5">ττ</text></g>
<text transform="translate(84.55 902.24) rotate(0.03) scale(1 1.035)" font-size="17.40" text-anchor="middle" stroke="#000" stroke-width="0.30">0.35</text>
<text transform="translate(138.22 902.24) rotate(0.03) scale(1 1.035)" font-size="17.40" text-anchor="middle" stroke="#000" stroke-width="0.30">0.40</text>
<text transform="translate(191.88 902.24) rotate(0.03) scale(1 1.035)" font-size="17.40" text-anchor="middle" stroke="#000" stroke-width="0.30">0.45</text>
<text transform="translate(245.55 902.24) rotate(0.03) scale(1 1.035)" font-size="17.40" text-anchor="middle" stroke="#000" stroke-width="0.30">0.50</text>
<text transform="translate(299.21 902.24) rotate(0.03) scale(1 1.035)" font-size="17.40" text-anchor="middle" stroke="#000" stroke-width="0.30">0.55</text>
<text transform="translate(352.88 902.24) rotate(0.03) scale(1 1.035)" font-size="17.40" text-anchor="middle" stroke="#000" stroke-width="0.30">0.60</text>
<text transform="translate(406.54 902.24) rotate(0.03) scale(1 1.035)" font-size="17.40" text-anchor="middle" stroke="#000" stroke-width="0.30">0.65</text>
<text x="245.85" y="928.20" font-size="17.80" text-anchor="middle" stroke="#000" stroke-width="0.2"><tspan font-size="18.8">sin</tspan><tspan font-size="13.00" dy="-6.6" dx="1.0">2</tspan><tspan dy="6.6" dx="1.0" font-style="italic">θ</tspan><tspan font-size="11.50" dy="2.8" dx="0.5">23</tspan></text>
<text transform="translate(448.45 902.24) rotate(0.03) scale(1 1.035)" font-size="17.40" text-anchor="middle" stroke="#000" stroke-width="0.30">0.35</text>
<text transform="translate(502.12 902.24) rotate(0.03) scale(1 1.035)" font-size="17.40" text-anchor="middle" stroke="#000" stroke-width="0.30">0.40</text>
<text transform="translate(555.78 902.24) rotate(0.03) scale(1 1.035)" font-size="17.40" text-anchor="middle" stroke="#000" stroke-width="0.30">0.45</text>
<text transform="translate(609.44 902.24) rotate(0.03) scale(1 1.035)" font-size="17.40" text-anchor="middle" stroke="#000" stroke-width="0.30">0.50</text>
<text transform="translate(663.11 902.24) rotate(0.03) scale(1 1.035)" font-size="17.40" text-anchor="middle" stroke="#000" stroke-width="0.30">0.55</text>
<text transform="translate(716.77 902.24) rotate(0.03) scale(1 1.035)" font-size="17.40" text-anchor="middle" stroke="#000" stroke-width="0.30">0.60</text>
<text transform="translate(770.44 902.24) rotate(0.03) scale(1 1.035)" font-size="17.40" text-anchor="middle" stroke="#000" stroke-width="0.30">0.65</text>
<text x="608.74" y="928.20" font-size="17.80" text-anchor="middle" stroke="#000" stroke-width="0.2"><tspan font-size="18.8">sin</tspan><tspan font-size="13.00" dy="-6.6" dx="1.0">2</tspan><tspan dy="6.6" dx="1.0" font-style="italic">θ</tspan><tspan font-size="11.50" dy="2.8" dx="0.5">23</tspan></text>
</g>
</svg></body></html>
